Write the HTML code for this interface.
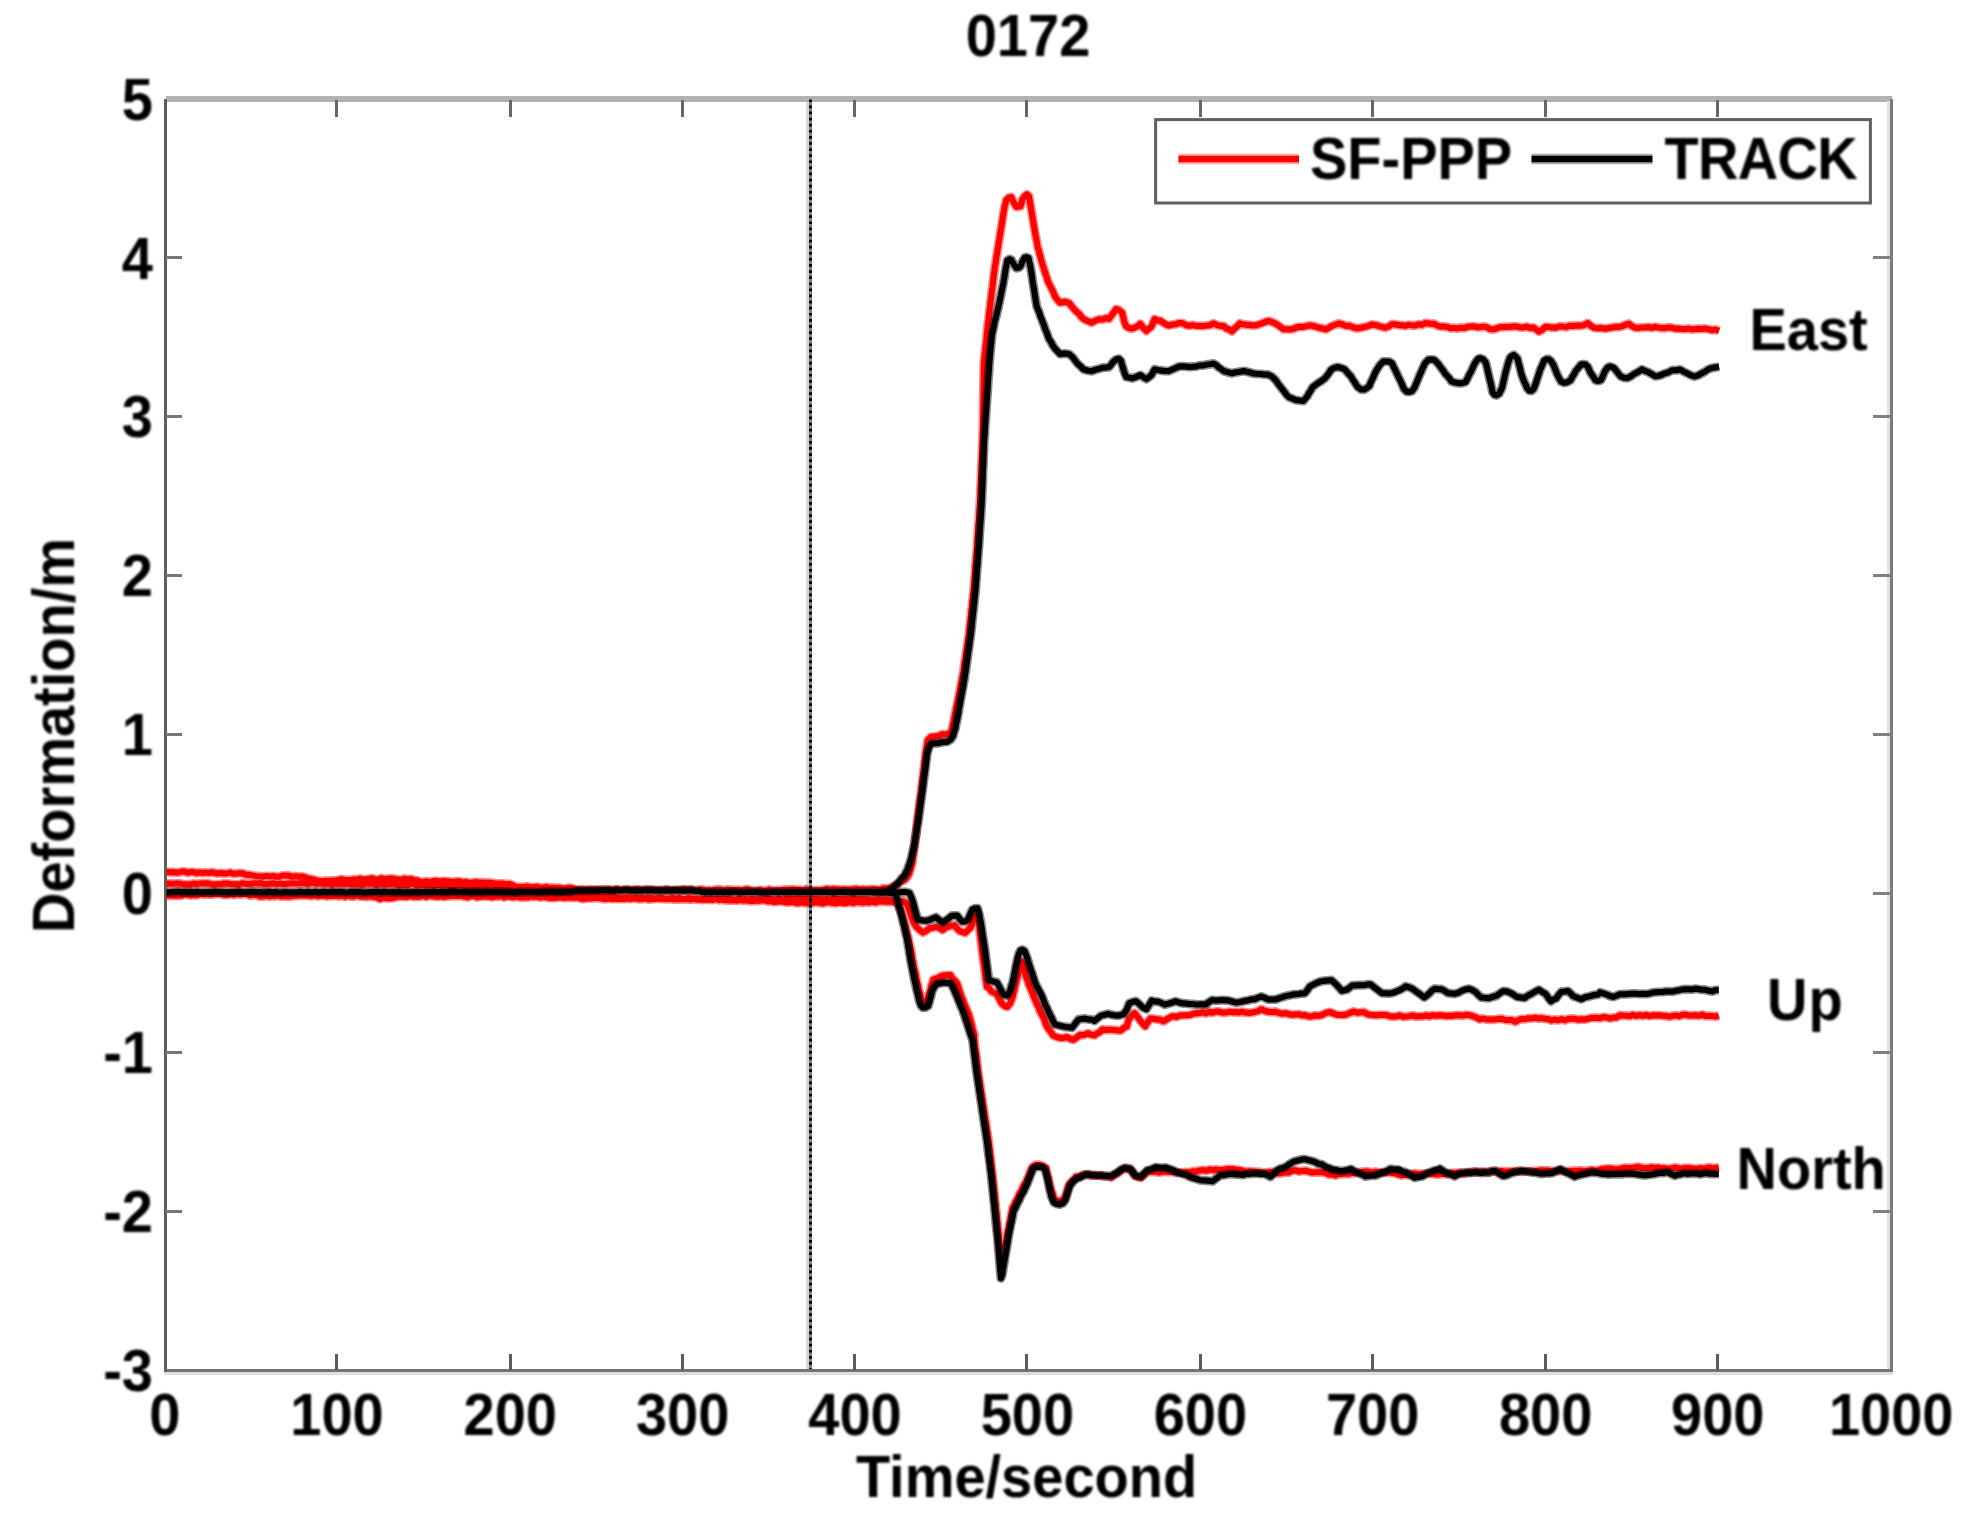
<!DOCTYPE html>
<html><head><meta charset="utf-8"><title>0172</title>
<style>html,body{margin:0;padding:0;background:#fff}.t{font-family:"Liberation Sans",sans-serif;font-weight:bold;font-size:56px;fill:#000}body{width:1969px;height:1519px;overflow:hidden}</style>
</head><body>
<svg width="1969" height="1519" viewBox="0 0 1969 1519" style="display:block">
<rect x="0" y="0" width="1969" height="1519" fill="#ffffff"/>
<g shape-rendering="crispEdges">
<rect x="166" y="96" width="1726" height="6" fill="#b2b2b2"/>
<rect x="1887" y="101" width="3" height="1271" fill="#e2e2e2"/>
<rect x="1890" y="99" width="3" height="1273" fill="#7a7a7a"/>
<rect x="164" y="1372" width="1729" height="3" fill="#dedede"/>
<rect x="164" y="1369" width="1729" height="3" fill="#747474"/>
<rect x="163.5" y="99" width="3.2" height="1273" fill="#5e5e5e"/>
<rect x="334.6" y="1354" width="3" height="16" fill="#5c5c5c"/>
<rect x="334.6" y="100" width="3" height="17" fill="#666666"/>
<rect x="508.7" y="1354" width="3" height="16" fill="#5c5c5c"/>
<rect x="508.7" y="100" width="3" height="17" fill="#666666"/>
<rect x="680.9" y="1354" width="3" height="16" fill="#5c5c5c"/>
<rect x="680.9" y="100" width="3" height="17" fill="#666666"/>
<rect x="853.4" y="1354" width="3" height="16" fill="#5c5c5c"/>
<rect x="853.4" y="100" width="3" height="17" fill="#666666"/>
<rect x="1025.2" y="1354" width="3" height="16" fill="#5c5c5c"/>
<rect x="1025.2" y="100" width="3" height="17" fill="#666666"/>
<rect x="1199.0" y="1354" width="3" height="16" fill="#5c5c5c"/>
<rect x="1199.0" y="100" width="3" height="17" fill="#666666"/>
<rect x="1370.5" y="1354" width="3" height="16" fill="#5c5c5c"/>
<rect x="1370.5" y="100" width="3" height="17" fill="#666666"/>
<rect x="1544.3" y="1354" width="3" height="16" fill="#5c5c5c"/>
<rect x="1544.3" y="100" width="3" height="17" fill="#666666"/>
<rect x="1715.9" y="1354" width="3" height="16" fill="#5c5c5c"/>
<rect x="1715.9" y="100" width="3" height="17" fill="#666666"/>
<rect x="166" y="1210.0" width="16" height="3" fill="#777777"/>
<rect x="1872.5" y="1210.0" width="18" height="3" fill="#808080"/>
<rect x="166" y="1051.0" width="16" height="3" fill="#777777"/>
<rect x="1872.5" y="1051.0" width="18" height="3" fill="#808080"/>
<rect x="166" y="892.1" width="16" height="3" fill="#777777"/>
<rect x="1872.5" y="892.1" width="18" height="3" fill="#808080"/>
<rect x="166" y="733.1" width="16" height="3" fill="#777777"/>
<rect x="1872.5" y="733.1" width="18" height="3" fill="#808080"/>
<rect x="166" y="574.1" width="16" height="3" fill="#777777"/>
<rect x="1872.5" y="574.1" width="18" height="3" fill="#808080"/>
<rect x="166" y="415.1" width="16" height="3" fill="#777777"/>
<rect x="1872.5" y="415.1" width="18" height="3" fill="#808080"/>
<rect x="166" y="256.2" width="16" height="3" fill="#777777"/>
<rect x="1872.5" y="256.2" width="18" height="3" fill="#808080"/>
</g>
<rect x="806.3" y="102" width="2.7" height="1267" fill="#d4d4d4"/>
<g opacity="0.45" fill="none" stroke="#ff0000" stroke-width="9.2" stroke-linejoin="round">
<path d="M166.6,871.8 L169.6,872.3 L172.6,872.0 L175.6,872.4 L178.6,872.5 L181.6,871.6 L184.6,871.6 L187.6,872.8 L190.6,872.0 L193.6,872.0 L196.6,873.1 L199.6,872.4 L202.6,873.0 L205.7,872.5 L208.7,872.9 L211.8,872.2 L214.8,873.0 L217.9,873.5 L220.9,873.0 L224.0,873.4 L227.0,873.4 L230.1,872.6 L233.1,873.7 L236.2,873.6 L239.2,873.2 L242.5,873.2 L245.8,874.8 L249.1,874.7 L252.4,875.4 L256.4,876.2 L260.4,876.4 L263.6,876.7 L266.7,875.9 L269.9,876.6 L273.0,876.0 L276.2,876.8 L279.4,876.7 L282.5,875.5 L285.7,875.6 L288.8,875.7 L292.0,876.8 L295.5,876.2 L299.1,876.8 L302.6,876.5 L305.9,877.8 L309.2,878.6 L312.3,879.2 L315.4,880.2 L318.5,880.8 L321.8,881.2 L325.1,880.7 L328.4,880.9 L331.7,880.6 L335.0,880.7 L338.3,880.0 L341.6,879.1 L344.9,879.9 L347.9,880.1 L351.0,879.9 L354.0,879.4 L357.1,879.5 L360.1,878.7 L363.2,879.6 L366.2,879.2 L369.3,878.7 L372.3,878.3 L375.4,879.5 L378.4,879.6 L381.5,878.2 L384.5,879.3 L387.8,878.8 L391.1,878.5 L394.4,878.8 L397.7,879.6 L401.0,879.9 L404.3,878.7 L407.6,879.7 L410.9,878.9 L413.9,880.4 L417.0,880.3 L420.0,881.7 L423.3,881.9 L426.7,881.3 L430.0,882.1 L433.3,881.1 L436.7,880.9 L440.0,881.7 L443.3,881.0 L446.6,881.3 L449.9,881.6 L453.1,882.0 L456.4,881.4 L459.7,881.3 L463.0,882.6 L466.0,881.8 L469.0,882.8 L472.0,882.8 L475.0,882.1 L478.0,882.3 L481.0,882.4 L484.0,882.7 L487.0,882.7 L490.0,882.7 L493.2,883.1 L496.3,883.8 L499.5,883.5 L502.7,883.6 L505.8,884.3 L509.0,883.9 L513.0,885.3 L517.0,887.5 L520.3,886.9 L523.6,887.1 L526.9,886.4 L530.1,887.1 L533.4,887.4 L536.7,886.7 L540.0,887.7 L543.1,887.8 L546.3,887.0 L549.4,887.9 L552.6,887.7 L555.7,888.1 L558.9,887.7 L562.0,888.3 L565.3,888.6 L568.6,887.8 L571.9,888.1 L575.1,889.3 L578.4,890.0 L581.7,889.2 L585.0,889.7 L588.1,889.9 L591.2,889.5 L594.3,889.6 L597.4,889.6 L600.5,889.7 L603.6,890.0 L606.7,889.6 L609.8,889.7 L612.9,890.3 L616.0,889.2 L619.0,890.0 L622.1,890.3 L625.2,889.6 L628.3,889.5 L631.4,890.4 L634.5,889.6 L637.6,889.5 L640.7,889.9 L643.8,890.3 L646.9,889.4 L650.0,889.7 L653.1,889.8 L656.2,890.5 L659.4,889.9 L662.5,890.5 L665.6,889.5 L668.8,889.8 L671.9,890.2 L675.0,890.6 L678.1,889.9 L681.2,889.6 L684.4,889.4 L687.5,890.0 L690.6,889.5 L693.8,890.5 L696.9,890.5 L700.0,889.5 L703.0,889.7 L706.0,890.5 L709.0,890.2 L712.0,890.5 L715.0,889.8 L718.0,889.4 L721.0,889.7 L724.0,890.4 L727.0,889.7 L730.0,889.8 L733.0,889.9 L736.0,889.9 L739.0,889.9 L742.0,890.6 L745.0,889.5 L748.0,889.3 L751.0,890.7 L754.0,890.6 L757.0,890.7 L760.0,889.9 L763.1,890.7 L766.2,890.6 L769.2,889.6 L772.3,890.4 L775.4,890.5 L778.5,890.2 L781.5,890.0 L784.6,889.7 L787.7,889.8 L790.8,889.6 L793.8,889.4 L796.9,890.1 L800.0,889.7 L803.0,890.4 L806.0,889.2 L809.0,890.5 L812.0,890.1 L815.0,890.4 L818.0,890.3 L821.0,890.2 L824.0,889.7 L827.0,888.8 L830.0,889.9 L833.0,889.0 L836.0,889.2 L839.0,889.7 L842.0,889.5 L845.0,889.3 L848.0,890.0 L851.0,889.5 L854.0,889.1 L857.0,888.9 L860.0,889.8 L863.3,889.3 L866.7,889.8 L870.0,889.2 L873.3,889.0 L876.7,889.5 L880.0,890.0 L883.3,888.3 L886.7,888.5 L890.0,887.9 L893.7,886.2 L897.3,884.6 L900.8,881.4 L904.3,880.2 L906.6,877.9 L909.0,874.0 L910.1,870.6 L911.1,866.9 L912.2,863.6 L912.6,860.3 L913.0,857.2 L913.5,854.5 L913.9,850.2 L914.4,847.1 L914.7,844.1 L915.1,840.9 L915.4,837.7 L915.8,835.9 L916.1,832.5 L916.5,828.2 L916.8,825.7 L917.2,822.2 L917.5,819.1 L917.9,816.0 L918.3,813.2 L918.7,810.0 L919.1,806.5 L919.5,803.1 L919.9,800.1 L920.4,796.7 L920.8,794.1 L921.2,791.2 L921.6,787.6 L922.0,783.9 L922.3,780.9 L922.7,778.1 L923.1,775.2 L923.5,772.4 L923.9,768.6 L924.2,766.1 L924.6,762.6 L925.0,759.2 L925.4,755.9 L925.8,753.0 L926.2,750.1 L926.7,746.5 L927.2,743.8 L927.7,740.3 L931.1,736.8 L934.8,736.5 L938.5,736.0 L942.2,734.3 L945.4,734.4 L948.5,733.9 L951.7,730.8 L952.3,727.9 L952.9,724.0 L953.6,721.8 L954.2,718.6 L954.8,714.7 L955.5,711.8 L956.1,708.1 L956.7,706.0 L957.4,702.6 L958.0,699.8 L958.6,696.5 L959.3,693.1 L959.9,690.1 L960.5,686.7 L961.2,682.8 L961.8,680.4 L962.4,676.3 L963.1,673.4 L963.5,671.2 L964.0,666.9 L964.4,663.8 L964.9,660.7 L965.4,658.7 L965.8,654.5 L966.3,651.1 L966.8,649.2 L967.2,644.9 L967.7,642.8 L968.1,639.4 L968.6,636.5 L969.1,633.5 L969.4,629.8 L969.7,627.0 L970.1,622.7 L970.4,620.6 L970.8,617.0 L971.1,614.2 L971.4,610.1 L971.8,607.9 L972.1,605.0 L972.4,600.6 L972.8,597.8 L973.1,595.0 L973.5,592.2 L973.8,588.2 L974.0,584.9 L974.3,581.9 L974.5,579.3 L974.8,576.3 L975.0,572.6 L975.3,569.4 L975.5,566.3 L975.7,563.1 L976.0,560.0 L976.2,556.3 L976.5,553.8 L976.7,551.4 L977.0,547.4 L977.2,544.7 L977.4,540.7 L977.6,538.3 L977.8,535.2 L978.0,531.9 L978.2,528.5 L978.4,525.3 L978.7,522.4 L978.9,519.6 L979.1,515.3 L979.3,512.1 L979.5,509.9 L979.7,507.0 L979.9,503.3 L980.1,500.0 L980.3,497.4 L980.4,493.6 L980.5,490.7 L980.6,487.6 L980.8,485.2 L980.9,481.8 L981.0,478.6 L981.1,476.3 L981.3,473.7 L981.4,469.7 L981.5,467.3 L981.6,463.9 L981.8,461.6 L981.9,458.1 L982.0,454.7 L982.1,451.6 L982.3,448.3 L982.4,446.0 L982.5,442.8 L982.7,439.5 L982.7,436.7 L982.8,433.6 L982.8,431.2 L982.9,427.2 L982.9,425.4 L983.0,421.5 L983.0,418.6 L983.1,415.4 L983.1,412.8 L983.2,409.7 L983.2,406.3 L983.3,403.1 L983.3,400.4 L983.4,397.5 L983.4,393.7 L983.5,391.2 L983.5,388.4 L983.6,384.6 L983.6,381.2 L983.7,378.1 L983.7,375.8 L983.8,372.6 L983.8,370.0 L983.9,366.8 L983.9,362.8 L984.2,359.6 L984.5,356.7 L984.8,353.5 L985.1,351.3 L985.4,348.5 L985.7,345.5 L986.1,341.5 L986.4,339.3 L986.7,335.4 L987.0,332.6 L987.3,329.7 L987.7,325.5 L988.1,322.2 L988.5,320.0 L988.9,315.9 L989.3,312.7 L989.6,309.7 L990.0,306.5 L990.4,302.4 L990.8,299.8 L991.2,296.8 L991.6,293.7 L992.0,290.2 L992.4,287.6 L992.7,285.1 L993.1,281.1 L993.5,278.2 L993.9,274.4 L994.3,271.6 L994.7,269.0 L995.1,265.1 L995.6,263.2 L996.0,260.3 L996.5,256.1 L997.0,254.4 L997.5,250.6 L997.9,248.2 L998.4,245.2 L998.9,241.5 L999.4,239.1 L999.8,236.1 L1000.3,233.3 L1000.8,229.5 L1001.3,227.3 L1001.7,224.6 L1002.2,221.2 L1002.8,217.4 L1003.4,213.3 L1004.0,210.3 L1004.6,206.5 L1005.5,203.5 L1006.3,199.9 L1008.7,197.7 L1011.3,197.1 L1014.0,202.9 L1016.4,206.9 L1018.5,206.6 L1020.5,206.3 L1021.5,202.9 L1022.5,199.0 L1024.6,196.2 L1027.0,194.4 L1029.0,196.3 L1029.6,199.9 L1030.1,202.8 L1030.6,205.8 L1031.2,209.2 L1031.7,212.2 L1032.2,215.3 L1032.7,218.4 L1033.2,221.4 L1033.8,225.6 L1034.4,228.8 L1034.9,231.6 L1035.5,235.1 L1036.1,237.7 L1036.6,240.7 L1037.2,244.0 L1037.8,247.9 L1038.6,249.7 L1039.4,253.5 L1040.3,256.1 L1041.1,259.9 L1042.0,262.4 L1042.8,265.4 L1043.8,268.5 L1044.9,271.8 L1045.9,275.2 L1046.9,277.6 L1047.9,281.4 L1048.9,283.3 L1050.5,286.6 L1052.0,289.4 L1053.5,292.5 L1055.0,296.5 L1057.6,300.0 L1060.1,302.7 L1064.8,301.7 L1069.2,303.1 L1071.3,305.9 L1073.3,308.4 L1075.3,310.5 L1077.4,312.5 L1079.4,314.2 L1081.4,316.9 L1083.5,319.0 L1087.5,321.0 L1091.6,322.6 L1095.7,320.5 L1099.7,319.1 L1102.8,319.6 L1105.8,318.1 L1108.9,318.9 L1110.9,316.2 L1112.9,313.4 L1116.0,309.1 L1119.0,310.0 L1122.1,312.5 L1123.1,316.6 L1124.1,321.2 L1125.1,323.8 L1126.1,326.3 L1129.2,328.1 L1132.2,328.6 L1134.9,327.4 L1137.6,326.2 L1140.3,323.8 L1143.4,328.0 L1146.4,330.9 L1149.0,328.6 L1151.5,326.6 L1153.0,323.0 L1154.6,319.0 L1157.6,320.5 L1160.7,320.8 L1163.4,322.9 L1166.1,324.4 L1168.8,325.5 L1172.2,324.6 L1175.6,324.2 L1178.9,323.1 L1182.3,323.0 L1185.7,325.0 L1189.1,325.8 L1192.7,325.1 L1196.2,325.9 L1199.8,325.9 L1203.3,325.9 L1206.7,325.6 L1210.1,325.2 L1213.5,323.3 L1216.9,325.1 L1220.3,325.9 L1223.6,326.0 L1226.3,328.5 L1229.1,329.4 L1231.8,331.3 L1234.5,328.6 L1237.2,326.3 L1239.9,323.3 L1243.3,324.3 L1246.7,324.9 L1250.0,325.1 L1253.2,325.5 L1257.2,325.0 L1261.1,323.6 L1265.1,322.0 L1269.1,320.9 L1272.4,322.3 L1275.7,323.8 L1278.3,325.3 L1280.9,327.3 L1283.6,329.2 L1286.9,329.2 L1290.2,329.4 L1293.3,328.9 L1296.3,327.5 L1299.4,326.8 L1303.1,326.9 L1306.7,326.1 L1310.3,325.4 L1313.9,326.2 L1317.2,327.2 L1320.5,328.0 L1325.8,329.3 L1329.1,327.6 L1332.4,325.7 L1335.7,324.5 L1339.0,323.5 L1342.6,324.5 L1346.1,326.0 L1349.6,325.7 L1353.6,327.5 L1357.5,328.4 L1360.8,327.8 L1364.1,327.0 L1368.1,326.1 L1372.0,324.4 L1376.0,325.2 L1380.0,326.3 L1385.3,327.7 L1388.6,326.5 L1391.9,324.2 L1395.2,324.3 L1398.5,325.1 L1401.8,325.3 L1405.1,325.9 L1408.6,324.9 L1412.1,325.4 L1415.6,325.4 L1418.7,324.2 L1421.8,324.9 L1424.9,323.2 L1427.9,323.2 L1431.0,324.0 L1434.1,323.7 L1437.4,325.7 L1440.7,326.6 L1444.0,326.6 L1447.3,326.9 L1450.6,328.2 L1453.9,327.9 L1457.3,328.4 L1460.8,327.6 L1464.2,328.1 L1467.6,326.8 L1471.1,326.5 L1474.4,326.5 L1477.7,327.3 L1481.0,327.1 L1484.3,326.6 L1487.1,327.3 L1490.0,329.1 L1493.2,329.3 L1496.3,328.5 L1499.5,327.3 L1502.7,327.1 L1505.8,326.9 L1509.3,326.9 L1512.7,326.6 L1516.1,326.5 L1519.6,327.2 L1523.0,327.5 L1526.5,326.6 L1530.1,328.0 L1533.6,327.5 L1536.2,329.6 L1538.9,331.5 L1542.2,329.8 L1545.5,326.8 L1548.9,327.1 L1552.3,327.4 L1555.8,327.8 L1559.2,326.4 L1562.6,326.6 L1566.1,327.1 L1569.5,325.8 L1572.9,325.9 L1576.4,325.6 L1579.8,325.8 L1583.8,325.2 L1587.7,323.1 L1591.0,325.9 L1594.3,327.9 L1597.9,328.2 L1601.6,327.9 L1605.2,328.7 L1608.8,328.0 L1612.1,327.6 L1615.4,326.8 L1618.7,327.1 L1622.0,326.2 L1625.3,324.9 L1628.6,323.7 L1632.0,326.2 L1635.3,327.7 L1638.6,327.9 L1641.9,327.4 L1645.2,327.5 L1648.5,327.0 L1651.8,327.9 L1655.1,326.8 L1658.4,327.6 L1661.7,328.1 L1665.0,328.1 L1668.3,327.4 L1671.6,327.7 L1674.9,328.7 L1678.2,328.5 L1681.5,329.0 L1684.8,329.1 L1688.1,328.6 L1691.4,329.3 L1694.7,329.2 L1698.1,328.7 L1701.5,328.9 L1705.0,328.6 L1708.4,329.2 L1711.8,330.2 L1715.5,329.6 L1719.1,330.9"/>
<path d="M166.6,883.7 L169.6,883.5 L172.6,883.9 L175.6,883.5 L178.6,883.4 L181.6,883.9 L184.6,884.6 L187.6,884.4 L190.6,884.4 L193.6,883.5 L196.6,884.0 L199.6,883.6 L202.6,883.4 L205.7,883.3 L208.7,883.4 L211.8,884.5 L214.8,884.4 L217.9,884.3 L220.9,884.3 L224.0,883.4 L227.0,883.5 L230.1,884.0 L233.1,884.2 L236.2,884.3 L239.2,884.4 L242.3,883.2 L245.4,883.9 L248.5,884.0 L251.6,883.7 L254.7,883.2 L257.8,883.6 L260.9,883.0 L264.0,884.3 L267.2,884.1 L270.3,883.6 L273.4,883.2 L276.5,884.1 L279.6,883.6 L282.7,884.0 L285.8,884.0 L288.9,883.4 L292.0,883.3 L295.1,883.6 L298.2,883.4 L301.3,883.0 L304.4,883.3 L307.6,884.1 L310.7,883.0 L313.8,883.0 L316.9,883.9 L320.0,883.4 L323.1,883.9 L326.2,883.8 L329.3,883.7 L332.5,884.7 L335.6,883.5 L338.7,883.9 L341.8,883.6 L344.9,884.3 L347.9,883.8 L350.9,883.9 L353.9,884.5 L356.9,883.9 L359.9,884.3 L362.9,884.9 L365.9,883.7 L368.9,883.6 L371.9,883.9 L374.9,884.7 L377.9,884.5 L380.9,884.0 L384.0,884.2 L387.0,884.0 L390.0,884.4 L393.0,883.8 L396.0,884.8 L399.0,885.1 L402.0,885.2 L405.0,884.9 L408.0,885.3 L411.0,883.9 L414.0,884.3 L417.0,885.4 L420.0,885.1 L423.3,884.7 L426.7,885.6 L430.0,885.3 L433.3,885.7 L436.7,885.1 L440.0,885.0 L443.1,885.5 L446.2,885.2 L449.2,885.7 L452.3,886.7 L455.4,885.8 L458.5,885.5 L461.5,885.6 L464.6,885.9 L467.7,887.0 L470.8,886.4 L473.8,886.5 L476.9,886.3 L480.0,887.7 L483.0,887.0 L486.0,886.9 L489.0,886.8 L492.0,886.9 L495.0,887.3 L498.0,888.2 L501.0,887.5 L504.0,887.5 L507.0,888.3 L510.0,888.1 L513.0,889.4 L516.0,888.2 L519.0,889.0 L522.0,889.5 L525.0,889.1 L528.0,890.1 L531.0,889.5 L534.0,889.3 L537.0,889.7 L540.0,889.3 L543.1,890.2 L546.2,890.2 L549.2,891.5 L552.3,891.7 L555.4,891.5 L558.5,891.1 L561.5,891.8 L564.6,892.1 L567.7,892.3 L570.8,892.7 L573.8,893.9 L576.9,893.2 L580.0,893.3 L583.1,894.9 L586.2,894.6 L589.2,895.5 L592.3,894.9 L595.4,895.9 L598.5,895.8 L601.5,896.2 L604.6,896.4 L607.7,896.3 L610.8,895.9 L613.8,896.4 L616.9,897.6 L620.0,897.9 L623.1,898.0 L626.2,897.2 L629.4,897.7 L632.5,898.0 L635.6,897.8 L638.8,898.1 L641.9,897.7 L645.0,898.0 L648.1,898.1 L651.2,897.5 L654.4,898.6 L657.5,898.7 L660.6,897.4 L663.8,898.8 L666.9,898.8 L670.0,898.5 L673.0,897.6 L676.0,899.0 L679.0,897.9 L682.0,899.2 L685.0,898.9 L688.0,898.0 L691.0,898.3 L694.0,899.0 L697.0,899.0 L700.0,899.4 L703.1,899.7 L706.2,898.8 L709.3,898.5 L712.4,900.0 L715.5,898.7 L718.6,900.1 L721.7,899.1 L724.8,900.2 L727.9,900.3 L731.0,900.5 L734.0,900.1 L737.1,900.7 L740.2,899.8 L743.3,900.6 L746.4,900.2 L749.5,901.1 L752.6,901.0 L755.7,900.7 L758.8,900.8 L761.9,900.2 L765.0,900.3 L768.1,901.3 L771.2,901.3 L774.2,902.0 L777.3,901.8 L780.4,901.2 L783.5,901.7 L786.5,902.5 L789.6,902.3 L792.7,901.7 L795.8,903.0 L798.8,903.2 L801.9,902.2 L805.0,903.1 L808.0,902.8 L811.0,903.4 L814.0,902.6 L817.0,902.5 L820.0,902.8 L823.0,903.5 L826.0,902.2 L829.0,902.2 L832.0,902.9 L835.0,903.3 L838.0,902.7 L841.0,902.6 L844.0,903.2 L847.0,903.0 L850.0,902.0 L853.2,903.1 L856.4,902.0 L859.5,902.1 L862.7,902.8 L865.9,902.1 L869.1,902.6 L872.3,901.6 L875.5,902.6 L878.6,901.5 L881.8,901.3 L885.0,901.8 L888.8,901.6 L892.6,902.0 L896.4,902.6 L899.7,902.3 L903.0,901.2 L906.3,903.4 L908.3,907.0 L909.3,910.1 L910.4,913.6 L911.5,916.5 L912.5,919.0 L913.6,922.4 L916.2,926.6 L918.9,929.2 L922.8,932.5 L926.1,930.8 L929.4,928.3 L932.7,927.7 L936.0,926.9 L939.3,927.8 L942.6,930.0 L945.9,927.4 L949.2,926.1 L954.5,925.2 L957.2,928.7 L959.8,931.2 L965.1,932.9 L967.7,930.3 L970.4,927.6 L971.7,925.4 L973.0,921.7 L974.3,919.1 L976.3,915.0 L977.6,912.9 L978.1,916.1 L978.5,920.2 L978.9,922.3 L979.3,926.7 L979.6,929.2 L979.9,932.8 L980.3,935.8 L980.7,939.5 L981.1,942.0 L981.5,945.8 L981.9,949.9 L982.3,952.0 L982.7,956.1 L983.1,958.9 L983.6,962.1 L984.0,965.1 L984.5,968.5 L985.0,973.3 L985.4,976.5 L985.9,979.9 L986.4,983.3 L986.9,986.9 L989.2,988.3 L991.5,991.6 L996.8,994.1 L998.5,997.3 L1000.3,1000.9 L1002.0,1003.8 L1004.7,1006.1 L1007.3,1006.8 L1010.0,1003.6 L1011.3,1000.3 L1012.6,997.1 L1013.4,993.5 L1014.2,990.4 L1015.0,986.2 L1015.8,983.7 L1016.6,979.5 L1017.4,976.8 L1018.2,974.3 L1019.0,971.0 L1019.9,967.4 L1021.9,962.0 L1023.8,967.5 L1024.7,970.9 L1025.5,974.4 L1026.3,977.2 L1027.1,979.4 L1028.2,982.3 L1029.3,985.8 L1030.4,987.9 L1031.5,990.9 L1032.6,993.2 L1033.7,996.3 L1035.1,999.7 L1036.4,1002.9 L1037.7,1005.7 L1039.0,1008.2 L1040.3,1012.0 L1041.7,1014.4 L1043.0,1016.6 L1044.3,1019.4 L1045.6,1023.6 L1046.9,1026.5 L1048.6,1029.1 L1050.2,1031.3 L1051.9,1033.5 L1053.5,1035.8 L1056.8,1037.0 L1060.1,1037.9 L1063.4,1038.0 L1066.7,1037.0 L1070.1,1038.8 L1073.4,1039.8 L1076.7,1037.3 L1080.0,1034.8 L1083.9,1035.1 L1087.9,1033.2 L1091.2,1034.8 L1094.5,1035.3 L1097.1,1033.4 L1099.8,1032.2 L1102.4,1029.4 L1105.5,1030.0 L1108.6,1029.7 L1111.6,1029.8 L1114.7,1030.0 L1117.8,1030.6 L1120.9,1030.5 L1123.9,1027.8 L1126.8,1026.6 L1128.0,1021.6 L1129.2,1018.7 L1131.9,1015.8 L1134.5,1013.2 L1137.2,1016.4 L1139.8,1020.1 L1142.4,1023.3 L1145.1,1026.4 L1146.8,1023.5 L1148.6,1021.0 L1150.4,1018.4 L1153.7,1018.8 L1157.0,1019.4 L1160.3,1019.6 L1163.6,1021.3 L1166.7,1019.4 L1169.7,1017.5 L1172.8,1016.3 L1176.3,1016.9 L1179.9,1015.5 L1183.4,1015.3 L1186.7,1015.2 L1190.0,1015.0 L1193.3,1013.7 L1196.6,1013.3 L1199.8,1013.1 L1202.9,1012.2 L1206.1,1013.3 L1209.3,1011.7 L1212.4,1012.8 L1215.7,1011.6 L1219.0,1011.6 L1222.3,1012.7 L1225.6,1012.6 L1228.9,1011.8 L1232.2,1012.2 L1235.5,1012.1 L1238.8,1012.5 L1242.1,1011.7 L1245.4,1012.6 L1248.7,1012.9 L1252.0,1012.5 L1255.1,1011.9 L1258.2,1011.1 L1261.3,1009.3 L1265.3,1011.0 L1269.2,1012.0 L1272.4,1012.0 L1275.6,1011.7 L1278.7,1012.9 L1281.9,1013.7 L1285.1,1013.2 L1288.4,1014.0 L1291.7,1014.7 L1295.0,1014.6 L1298.3,1014.1 L1301.6,1015.3 L1304.9,1015.1 L1308.2,1016.3 L1311.5,1016.4 L1315.0,1015.4 L1318.5,1015.8 L1322.0,1015.0 L1326.0,1012.9 L1330.0,1012.0 L1333.3,1013.4 L1336.6,1014.7 L1340.5,1015.0 L1344.5,1015.0 L1347.6,1014.0 L1350.6,1012.8 L1353.7,1011.5 L1357.2,1012.7 L1360.8,1012.2 L1364.3,1012.2 L1367.1,1014.1 L1370.0,1014.8 L1373.3,1015.0 L1376.6,1015.3 L1379.9,1014.9 L1383.2,1015.0 L1386.5,1015.0 L1389.8,1016.2 L1393.1,1016.6 L1396.4,1016.4 L1399.7,1015.5 L1403.0,1016.8 L1406.3,1016.6 L1409.6,1016.1 L1412.9,1015.4 L1416.2,1016.6 L1419.5,1016.3 L1422.8,1016.3 L1426.1,1015.3 L1429.4,1016.3 L1432.7,1015.2 L1436.0,1015.8 L1439.3,1015.2 L1442.6,1015.4 L1445.9,1016.1 L1449.2,1015.8 L1452.6,1015.9 L1456.0,1015.2 L1459.4,1015.3 L1462.8,1015.6 L1466.2,1014.8 L1469.6,1015.3 L1473.0,1016.2 L1476.3,1017.5 L1479.6,1019.3 L1482.8,1018.6 L1485.9,1019.3 L1489.1,1019.6 L1492.3,1019.6 L1495.4,1019.3 L1498.7,1018.9 L1502.0,1018.7 L1505.3,1020.0 L1508.6,1020.1 L1512.0,1020.1 L1515.3,1021.8 L1518.6,1019.9 L1521.9,1019.0 L1525.2,1019.1 L1528.5,1018.2 L1531.8,1018.4 L1535.1,1017.7 L1538.4,1018.4 L1541.7,1018.1 L1545.0,1018.7 L1548.3,1019.1 L1551.6,1020.4 L1554.9,1019.5 L1558.2,1020.3 L1561.5,1019.1 L1564.8,1020.3 L1568.1,1018.9 L1571.4,1018.7 L1574.7,1018.8 L1578.0,1019.7 L1581.3,1019.2 L1584.6,1019.5 L1587.9,1018.8 L1590.9,1017.9 L1593.9,1017.9 L1597.0,1017.7 L1600.0,1018.2 L1603.3,1017.1 L1606.6,1017.4 L1609.9,1018.5 L1613.2,1017.5 L1616.5,1017.5 L1619.8,1015.2 L1623.1,1015.6 L1626.4,1015.7 L1629.7,1016.1 L1633.0,1014.8 L1636.3,1016.0 L1639.6,1015.0 L1642.9,1015.9 L1646.2,1014.9 L1649.5,1016.1 L1652.8,1015.3 L1656.1,1015.4 L1659.4,1015.3 L1662.7,1015.8 L1666.0,1015.9 L1669.3,1016.7 L1672.6,1015.9 L1675.9,1015.4 L1679.2,1016.2 L1682.5,1014.8 L1685.8,1014.7 L1689.1,1015.6 L1692.4,1015.5 L1695.7,1015.2 L1699.0,1015.8 L1702.3,1014.6 L1705.6,1016.1 L1708.9,1015.9 L1712.2,1016.0 L1715.5,1016.5 L1718.8,1015.5"/>
<path d="M166.6,895.5 L169.6,895.6 L172.7,895.6 L175.7,895.7 L178.7,895.4 L181.8,895.6 L184.8,894.2 L187.9,894.7 L190.9,895.4 L193.9,894.9 L197.0,895.2 L200.0,893.9 L203.1,894.4 L206.2,894.1 L209.2,894.5 L212.3,894.5 L215.4,893.7 L218.5,894.0 L221.5,894.1 L224.6,895.0 L227.7,894.8 L230.8,893.8 L233.8,894.8 L236.9,893.8 L240.0,894.5 L243.3,894.0 L246.7,894.1 L250.0,895.6 L253.3,894.9 L256.7,895.1 L260.0,896.5 L263.0,896.4 L266.1,895.5 L269.1,896.5 L272.1,895.9 L275.2,896.1 L278.2,895.4 L281.2,896.5 L284.2,896.1 L287.3,896.6 L290.3,896.5 L293.3,895.6 L296.4,895.7 L299.4,895.4 L302.4,895.4 L305.5,895.2 L308.5,895.6 L311.5,896.1 L314.5,895.2 L317.6,896.2 L320.6,895.7 L323.6,895.6 L326.7,896.4 L329.7,895.9 L332.7,895.7 L335.8,895.9 L338.8,896.3 L341.8,895.3 L344.8,896.7 L347.9,895.3 L350.9,896.4 L353.9,896.5 L357.0,895.3 L360.0,896.4 L363.3,896.2 L366.7,896.9 L370.0,896.4 L373.3,896.9 L376.7,897.4 L380.0,899.0 L383.3,897.6 L386.7,898.2 L390.0,898.2 L393.3,898.0 L396.7,896.8 L400.0,896.6 L403.3,896.7 L406.7,897.0 L410.0,895.9 L413.3,896.8 L416.7,896.7 L420.0,896.7 L423.0,895.5 L426.0,896.9 L429.0,895.6 L432.0,896.0 L435.0,896.5 L438.0,896.9 L441.0,896.1 L444.0,897.0 L447.0,896.4 L450.0,896.1 L453.0,896.1 L456.0,896.0 L459.0,895.8 L462.0,896.0 L465.0,896.8 L468.0,897.3 L471.0,896.0 L474.0,895.9 L477.0,897.3 L480.0,896.7 L483.0,896.5 L486.0,896.2 L489.0,896.8 L492.0,897.2 L495.0,896.6 L498.0,896.6 L501.0,896.1 L504.0,897.4 L507.0,896.1 L510.0,896.8 L513.0,897.3 L516.0,896.3 L519.0,897.2 L522.0,897.6 L525.0,897.1 L528.0,897.4 L531.0,896.3 L534.0,896.9 L537.0,896.5 L540.0,897.5 L543.0,896.8 L546.0,897.1 L549.0,898.0 L552.0,897.8 L555.0,898.1 L558.0,897.4 L561.0,897.5 L564.0,897.9 L567.0,897.6 L570.0,897.4 L573.0,897.7 L576.0,897.4 L579.0,897.8 L582.0,898.8 L585.0,898.8 L588.0,898.4 L591.0,898.3 L594.0,898.1 L597.0,897.8 L600.0,898.2 L603.0,898.9 L606.1,899.1 L609.1,898.3 L612.1,899.0 L615.2,899.0 L618.2,898.9 L621.2,898.9 L624.2,899.0 L627.3,898.4 L630.3,899.0 L633.3,898.3 L636.4,898.7 L639.4,899.1 L642.4,899.0 L645.5,898.4 L648.5,899.4 L651.5,899.0 L654.5,898.9 L657.6,898.1 L660.6,898.9 L663.6,898.4 L666.7,899.1 L669.7,898.8 L672.7,899.3 L675.8,899.1 L678.8,899.3 L681.8,898.7 L684.8,899.1 L687.9,899.3 L690.9,899.4 L693.9,898.7 L697.0,899.5 L700.0,899.6 L703.0,899.3 L706.1,899.7 L709.1,899.7 L712.1,899.1 L715.2,899.1 L718.2,898.6 L721.2,899.6 L724.2,899.7 L727.3,899.0 L730.3,899.4 L733.3,899.4 L736.4,899.5 L739.4,898.6 L742.4,899.5 L745.5,899.3 L748.5,899.4 L751.5,899.0 L754.5,899.3 L757.6,899.6 L760.6,899.4 L763.6,899.5 L766.7,898.5 L769.7,898.7 L772.7,899.1 L775.8,899.5 L778.8,898.8 L781.8,899.5 L784.8,899.5 L787.9,898.6 L790.9,899.2 L793.9,898.9 L797.0,898.6 L800.0,898.8 L803.0,899.0 L806.1,898.8 L809.1,898.9 L812.1,898.6 L815.2,899.3 L818.2,899.2 L821.2,899.5 L824.3,899.5 L827.3,899.0 L830.4,900.0 L833.4,898.6 L836.4,899.2 L839.5,899.1 L842.5,899.3 L845.5,898.8 L848.6,899.9 L851.6,899.2 L854.6,898.7 L857.7,899.6 L860.7,898.8 L863.8,899.5 L866.8,899.2 L869.8,899.6 L872.9,900.2 L875.9,900.0 L878.9,899.4 L882.0,900.0 L885.0,899.7 L888.8,900.3 L892.6,900.9 L896.4,902.5 L898.7,906.1 L901.0,910.3 L901.9,913.6 L902.7,916.4 L903.5,919.3 L904.3,923.4 L905.1,925.1 L905.8,928.3 L906.6,932.0 L907.4,935.1 L908.1,937.4 L908.9,941.1 L909.6,944.5 L910.2,946.8 L910.7,949.9 L911.3,952.6 L911.9,955.7 L912.4,959.7 L913.0,961.9 L913.6,965.8 L914.2,968.8 L914.9,971.4 L915.6,974.0 L916.2,978.1 L916.9,980.5 L917.5,983.4 L918.3,986.7 L919.1,991.2 L919.9,993.8 L920.7,997.0 L921.5,1000.7 L923.5,1004.1 L926.1,1003.5 L927.2,999.8 L928.3,996.0 L929.4,993.2 L930.4,990.0 L931.4,985.5 L932.4,982.9 L933.4,979.3 L937.3,978.3 L941.3,976.1 L944.4,975.3 L947.5,975.3 L950.5,975.1 L952.7,979.0 L955.0,980.6 L957.2,983.7 L958.2,986.7 L959.3,990.1 L960.3,993.2 L961.4,996.6 L962.4,998.8 L963.8,1003.0 L965.1,1005.4 L966.4,1009.0 L967.7,1011.8 L969.0,1014.9 L969.9,1018.6 L970.8,1021.8 L971.7,1024.9 L972.6,1028.8 L973.4,1031.9 L974.3,1034.4 L974.2,1039.6 L974.6,1043.0 L975.0,1046.8 L975.4,1049.9 L975.8,1052.5 L976.2,1054.8 L976.6,1059.1 L977.0,1061.7 L977.3,1065.0 L977.7,1068.3 L978.1,1071.3 L978.5,1074.2 L979.0,1078.0 L979.4,1080.3 L979.9,1083.4 L980.4,1087.2 L980.8,1089.3 L981.3,1092.6 L981.8,1096.5 L982.2,1098.5 L982.7,1102.7 L983.2,1105.6 L983.6,1108.4 L984.1,1111.3 L984.6,1115.1 L985.0,1118.4 L985.5,1120.4 L986.0,1124.0 L986.4,1127.2 L986.9,1130.2 L987.4,1133.1 L987.8,1136.0 L988.3,1139.7 L988.8,1143.2 L989.1,1145.2 L989.5,1148.5 L989.9,1152.5 L990.2,1155.6 L990.6,1158.5 L990.9,1160.7 L991.3,1164.8 L991.6,1168.3 L992.0,1171.5 L992.4,1174.1 L992.7,1176.3 L993.0,1180.6 L993.3,1182.7 L993.7,1186.5 L994.0,1190.1 L994.3,1192.8 L994.6,1195.1 L994.9,1198.4 L995.2,1202.5 L995.5,1204.4 L995.8,1208.2 L996.1,1211.0 L996.4,1213.8 L996.7,1217.6 L997.0,1219.8 L997.3,1223.0 L997.5,1226.5 L997.8,1229.2 L998.1,1232.3 L998.4,1236.2 L998.7,1239.5 L998.9,1242.9 L999.2,1244.8 L999.7,1248.4 L1000.2,1251.3 L1000.7,1254.8 L1001.1,1257.7 L1001.6,1261.5 L1003.7,1257.2 L1004.2,1253.7 L1004.7,1251.7 L1005.1,1247.9 L1005.6,1245.6 L1006.1,1242.4 L1006.6,1240.0 L1007.1,1236.5 L1007.6,1233.6 L1008.3,1229.9 L1008.9,1227.1 L1009.5,1223.4 L1010.2,1221.0 L1010.8,1217.4 L1011.5,1213.6 L1012.1,1210.6 L1012.7,1207.5 L1014.1,1205.4 L1015.5,1201.8 L1016.9,1199.8 L1018.2,1197.0 L1019.6,1193.4 L1021.3,1191.1 L1023.0,1187.0 L1024.7,1183.9 L1026.4,1181.4 L1027.6,1177.9 L1028.8,1176.0 L1030.0,1172.5 L1031.2,1169.3 L1032.4,1167.1 L1035.9,1164.9 L1039.3,1164.9 L1042.5,1165.8 L1045.8,1167.9 L1046.6,1172.2 L1047.3,1174.9 L1048.1,1177.4 L1048.9,1180.4 L1049.6,1184.8 L1050.4,1187.4 L1051.4,1190.9 L1052.4,1193.1 L1053.4,1197.0 L1054.3,1199.8 L1059.8,1201.4 L1064.6,1198.9 L1065.5,1196.3 L1066.5,1192.8 L1067.4,1189.8 L1068.3,1186.3 L1069.2,1184.3 L1071.5,1181.7 L1073.8,1179.7 L1076.1,1176.8 L1079.2,1176.6 L1082.4,1175.2 L1085.5,1174.5 L1088.5,1174.9 L1091.5,1175.6 L1094.5,1175.5 L1097.5,1175.5 L1100.9,1175.6 L1104.3,1176.1 L1107.7,1176.0 L1111.2,1177.5 L1114.6,1174.8 L1118.0,1173.0 L1121.4,1169.8 L1124.9,1168.3 L1130.0,1169.8 L1132.6,1172.8 L1135.1,1176.0 L1138.1,1177.1 L1141.1,1177.7 L1144.1,1174.7 L1147.1,1171.6 L1151.4,1171.8 L1155.7,1171.6 L1159.1,1172.5 L1162.5,1171.5 L1165.9,1171.8 L1169.4,1172.0 L1172.8,1172.0 L1176.2,1172.3 L1179.6,1172.3 L1183.1,1172.6 L1186.5,1172.0 L1189.9,1172.6 L1193.2,1171.2 L1196.6,1171.4 L1200.0,1170.4 L1200.6,1170.4 L1203.2,1170.1 L1206.5,1170.8 L1209.8,1169.4 L1213.1,1170.2 L1216.4,1169.5 L1219.7,1170.0 L1223.0,1170.0 L1226.3,1169.1 L1229.6,1169.1 L1232.9,1169.1 L1236.2,1169.8 L1239.5,1169.9 L1242.8,1170.7 L1246.1,1171.9 L1249.4,1171.3 L1252.7,1171.5 L1256.0,1172.1 L1259.3,1171.9 L1262.6,1172.7 L1265.9,1172.7 L1269.2,1172.0 L1272.5,1172.2 L1275.8,1172.9 L1279.1,1173.4 L1282.4,1173.0 L1285.7,1172.2 L1289.0,1172.5 L1292.3,1170.6 L1295.6,1170.2 L1298.9,1171.4 L1302.2,1171.0 L1305.5,1170.7 L1308.8,1171.6 L1312.1,1172.6 L1315.4,1172.2 L1318.7,1172.3 L1322.0,1172.2 L1325.3,1172.7 L1328.6,1174.4 L1332.0,1174.3 L1335.3,1175.5 L1338.6,1174.0 L1341.9,1174.1 L1345.2,1173.6 L1348.5,1174.0 L1351.8,1173.0 L1355.1,1172.8 L1358.4,1172.5 L1361.7,1171.9 L1365.0,1171.5 L1368.3,1171.5 L1371.6,1172.9 L1374.9,1171.7 L1378.2,1172.3 L1381.5,1172.3 L1384.8,1172.7 L1388.1,1172.2 L1391.4,1173.0 L1394.7,1173.2 L1398.0,1174.4 L1401.3,1175.4 L1404.6,1174.8 L1407.9,1175.0 L1411.2,1173.9 L1414.5,1173.4 L1417.8,1174.0 L1421.1,1173.8 L1424.4,1173.8 L1427.7,1173.3 L1431.0,1173.8 L1434.3,1174.1 L1437.6,1174.6 L1440.9,1173.9 L1444.1,1173.9 L1447.3,1174.3 L1450.6,1173.2 L1453.8,1172.9 L1457.0,1173.0 L1460.3,1172.5 L1463.5,1173.4 L1466.7,1173.3 L1469.9,1172.4 L1473.2,1171.9 L1476.4,1171.7 L1479.6,1171.8 L1482.7,1171.5 L1485.7,1171.9 L1488.8,1172.1 L1491.8,1171.6 L1494.9,1171.2 L1497.9,1172.2 L1500.9,1171.1 L1504.0,1171.3 L1507.0,1171.4 L1510.1,1171.5 L1513.1,1171.0 L1516.2,1171.4 L1519.2,1171.2 L1522.5,1171.7 L1525.8,1171.3 L1529.1,1171.6 L1532.4,1171.1 L1535.7,1171.1 L1539.0,1170.6 L1542.3,1170.3 L1545.6,1170.7 L1548.9,1170.6 L1552.2,1171.2 L1555.5,1171.0 L1558.8,1171.1 L1562.1,1170.7 L1565.4,1171.6 L1568.7,1171.2 L1572.0,1170.9 L1575.3,1170.7 L1578.6,1170.7 L1582.0,1170.6 L1585.3,1171.1 L1588.6,1170.4 L1591.9,1169.9 L1595.2,1170.7 L1598.5,1170.3 L1601.8,1169.1 L1605.1,1168.8 L1608.4,1168.6 L1611.7,1168.6 L1615.0,1169.2 L1618.3,1169.2 L1621.6,1168.5 L1624.9,1167.8 L1628.2,1167.9 L1631.5,1167.7 L1634.8,1167.4 L1638.1,1166.8 L1641.4,1167.7 L1644.7,1168.2 L1648.0,1168.1 L1651.3,1167.3 L1654.6,1168.0 L1657.9,1167.5 L1661.2,1168.4 L1664.5,1168.1 L1667.7,1168.9 L1670.9,1168.6 L1674.2,1167.6 L1677.4,1167.9 L1680.6,1168.8 L1683.9,1168.1 L1687.1,1168.1 L1690.3,1168.1 L1693.5,1168.6 L1696.8,1168.9 L1700.0,1168.2 L1703.1,1168.8 L1706.2,1168.1 L1709.4,1167.4 L1712.5,1168.5 L1715.6,1167.9 L1718.8,1167.3"/>
</g>
<g fill="none" stroke="#ff0000" stroke-width="6.0" stroke-linejoin="round">
<path d="M166.6,871.8 L169.6,872.3 L172.6,872.0 L175.6,872.4 L178.6,872.5 L181.6,871.6 L184.6,871.6 L187.6,872.8 L190.6,872.0 L193.6,872.0 L196.6,873.1 L199.6,872.4 L202.6,873.0 L205.7,872.5 L208.7,872.9 L211.8,872.2 L214.8,873.0 L217.9,873.5 L220.9,873.0 L224.0,873.4 L227.0,873.4 L230.1,872.6 L233.1,873.7 L236.2,873.6 L239.2,873.2 L242.5,873.2 L245.8,874.8 L249.1,874.7 L252.4,875.4 L256.4,876.2 L260.4,876.4 L263.6,876.7 L266.7,875.9 L269.9,876.6 L273.0,876.0 L276.2,876.8 L279.4,876.7 L282.5,875.5 L285.7,875.6 L288.8,875.7 L292.0,876.8 L295.5,876.2 L299.1,876.8 L302.6,876.5 L305.9,877.8 L309.2,878.6 L312.3,879.2 L315.4,880.2 L318.5,880.8 L321.8,881.2 L325.1,880.7 L328.4,880.9 L331.7,880.6 L335.0,880.7 L338.3,880.0 L341.6,879.1 L344.9,879.9 L347.9,880.1 L351.0,879.9 L354.0,879.4 L357.1,879.5 L360.1,878.7 L363.2,879.6 L366.2,879.2 L369.3,878.7 L372.3,878.3 L375.4,879.5 L378.4,879.6 L381.5,878.2 L384.5,879.3 L387.8,878.8 L391.1,878.5 L394.4,878.8 L397.7,879.6 L401.0,879.9 L404.3,878.7 L407.6,879.7 L410.9,878.9 L413.9,880.4 L417.0,880.3 L420.0,881.7 L423.3,881.9 L426.7,881.3 L430.0,882.1 L433.3,881.1 L436.7,880.9 L440.0,881.7 L443.3,881.0 L446.6,881.3 L449.9,881.6 L453.1,882.0 L456.4,881.4 L459.7,881.3 L463.0,882.6 L466.0,881.8 L469.0,882.8 L472.0,882.8 L475.0,882.1 L478.0,882.3 L481.0,882.4 L484.0,882.7 L487.0,882.7 L490.0,882.7 L493.2,883.1 L496.3,883.8 L499.5,883.5 L502.7,883.6 L505.8,884.3 L509.0,883.9 L513.0,885.3 L517.0,887.5 L520.3,886.9 L523.6,887.1 L526.9,886.4 L530.1,887.1 L533.4,887.4 L536.7,886.7 L540.0,887.7 L543.1,887.8 L546.3,887.0 L549.4,887.9 L552.6,887.7 L555.7,888.1 L558.9,887.7 L562.0,888.3 L565.3,888.6 L568.6,887.8 L571.9,888.1 L575.1,889.3 L578.4,890.0 L581.7,889.2 L585.0,889.7 L588.1,889.9 L591.2,889.5 L594.3,889.6 L597.4,889.6 L600.5,889.7 L603.6,890.0 L606.7,889.6 L609.8,889.7 L612.9,890.3 L616.0,889.2 L619.0,890.0 L622.1,890.3 L625.2,889.6 L628.3,889.5 L631.4,890.4 L634.5,889.6 L637.6,889.5 L640.7,889.9 L643.8,890.3 L646.9,889.4 L650.0,889.7 L653.1,889.8 L656.2,890.5 L659.4,889.9 L662.5,890.5 L665.6,889.5 L668.8,889.8 L671.9,890.2 L675.0,890.6 L678.1,889.9 L681.2,889.6 L684.4,889.4 L687.5,890.0 L690.6,889.5 L693.8,890.5 L696.9,890.5 L700.0,889.5 L703.0,889.7 L706.0,890.5 L709.0,890.2 L712.0,890.5 L715.0,889.8 L718.0,889.4 L721.0,889.7 L724.0,890.4 L727.0,889.7 L730.0,889.8 L733.0,889.9 L736.0,889.9 L739.0,889.9 L742.0,890.6 L745.0,889.5 L748.0,889.3 L751.0,890.7 L754.0,890.6 L757.0,890.7 L760.0,889.9 L763.1,890.7 L766.2,890.6 L769.2,889.6 L772.3,890.4 L775.4,890.5 L778.5,890.2 L781.5,890.0 L784.6,889.7 L787.7,889.8 L790.8,889.6 L793.8,889.4 L796.9,890.1 L800.0,889.7 L803.0,890.4 L806.0,889.2 L809.0,890.5 L812.0,890.1 L815.0,890.4 L818.0,890.3 L821.0,890.2 L824.0,889.7 L827.0,888.8 L830.0,889.9 L833.0,889.0 L836.0,889.2 L839.0,889.7 L842.0,889.5 L845.0,889.3 L848.0,890.0 L851.0,889.5 L854.0,889.1 L857.0,888.9 L860.0,889.8 L863.3,889.3 L866.7,889.8 L870.0,889.2 L873.3,889.0 L876.7,889.5 L880.0,890.0 L883.3,888.3 L886.7,888.5 L890.0,887.9 L893.7,886.2 L897.3,884.6 L900.8,881.4 L904.3,880.2 L906.6,877.9 L909.0,874.0 L910.1,870.6 L911.1,866.9 L912.2,863.6 L912.6,860.3 L913.0,857.2 L913.5,854.5 L913.9,850.2 L914.4,847.1 L914.7,844.1 L915.1,840.9 L915.4,837.7 L915.8,835.9 L916.1,832.5 L916.5,828.2 L916.8,825.7 L917.2,822.2 L917.5,819.1 L917.9,816.0 L918.3,813.2 L918.7,810.0 L919.1,806.5 L919.5,803.1 L919.9,800.1 L920.4,796.7 L920.8,794.1 L921.2,791.2 L921.6,787.6 L922.0,783.9 L922.3,780.9 L922.7,778.1 L923.1,775.2 L923.5,772.4 L923.9,768.6 L924.2,766.1 L924.6,762.6 L925.0,759.2 L925.4,755.9 L925.8,753.0 L926.2,750.1 L926.7,746.5 L927.2,743.8 L927.7,740.3 L931.1,736.8 L934.8,736.5 L938.5,736.0 L942.2,734.3 L945.4,734.4 L948.5,733.9 L951.7,730.8 L952.3,727.9 L952.9,724.0 L953.6,721.8 L954.2,718.6 L954.8,714.7 L955.5,711.8 L956.1,708.1 L956.7,706.0 L957.4,702.6 L958.0,699.8 L958.6,696.5 L959.3,693.1 L959.9,690.1 L960.5,686.7 L961.2,682.8 L961.8,680.4 L962.4,676.3 L963.1,673.4 L963.5,671.2 L964.0,666.9 L964.4,663.8 L964.9,660.7 L965.4,658.7 L965.8,654.5 L966.3,651.1 L966.8,649.2 L967.2,644.9 L967.7,642.8 L968.1,639.4 L968.6,636.5 L969.1,633.5 L969.4,629.8 L969.7,627.0 L970.1,622.7 L970.4,620.6 L970.8,617.0 L971.1,614.2 L971.4,610.1 L971.8,607.9 L972.1,605.0 L972.4,600.6 L972.8,597.8 L973.1,595.0 L973.5,592.2 L973.8,588.2 L974.0,584.9 L974.3,581.9 L974.5,579.3 L974.8,576.3 L975.0,572.6 L975.3,569.4 L975.5,566.3 L975.7,563.1 L976.0,560.0 L976.2,556.3 L976.5,553.8 L976.7,551.4 L977.0,547.4 L977.2,544.7 L977.4,540.7 L977.6,538.3 L977.8,535.2 L978.0,531.9 L978.2,528.5 L978.4,525.3 L978.7,522.4 L978.9,519.6 L979.1,515.3 L979.3,512.1 L979.5,509.9 L979.7,507.0 L979.9,503.3 L980.1,500.0 L980.3,497.4 L980.4,493.6 L980.5,490.7 L980.6,487.6 L980.8,485.2 L980.9,481.8 L981.0,478.6 L981.1,476.3 L981.3,473.7 L981.4,469.7 L981.5,467.3 L981.6,463.9 L981.8,461.6 L981.9,458.1 L982.0,454.7 L982.1,451.6 L982.3,448.3 L982.4,446.0 L982.5,442.8 L982.7,439.5 L982.7,436.7 L982.8,433.6 L982.8,431.2 L982.9,427.2 L982.9,425.4 L983.0,421.5 L983.0,418.6 L983.1,415.4 L983.1,412.8 L983.2,409.7 L983.2,406.3 L983.3,403.1 L983.3,400.4 L983.4,397.5 L983.4,393.7 L983.5,391.2 L983.5,388.4 L983.6,384.6 L983.6,381.2 L983.7,378.1 L983.7,375.8 L983.8,372.6 L983.8,370.0 L983.9,366.8 L983.9,362.8 L984.2,359.6 L984.5,356.7 L984.8,353.5 L985.1,351.3 L985.4,348.5 L985.7,345.5 L986.1,341.5 L986.4,339.3 L986.7,335.4 L987.0,332.6 L987.3,329.7 L987.7,325.5 L988.1,322.2 L988.5,320.0 L988.9,315.9 L989.3,312.7 L989.6,309.7 L990.0,306.5 L990.4,302.4 L990.8,299.8 L991.2,296.8 L991.6,293.7 L992.0,290.2 L992.4,287.6 L992.7,285.1 L993.1,281.1 L993.5,278.2 L993.9,274.4 L994.3,271.6 L994.7,269.0 L995.1,265.1 L995.6,263.2 L996.0,260.3 L996.5,256.1 L997.0,254.4 L997.5,250.6 L997.9,248.2 L998.4,245.2 L998.9,241.5 L999.4,239.1 L999.8,236.1 L1000.3,233.3 L1000.8,229.5 L1001.3,227.3 L1001.7,224.6 L1002.2,221.2 L1002.8,217.4 L1003.4,213.3 L1004.0,210.3 L1004.6,206.5 L1005.5,203.5 L1006.3,199.9 L1008.7,197.7 L1011.3,197.1 L1014.0,202.9 L1016.4,206.9 L1018.5,206.6 L1020.5,206.3 L1021.5,202.9 L1022.5,199.0 L1024.6,196.2 L1027.0,194.4 L1029.0,196.3 L1029.6,199.9 L1030.1,202.8 L1030.6,205.8 L1031.2,209.2 L1031.7,212.2 L1032.2,215.3 L1032.7,218.4 L1033.2,221.4 L1033.8,225.6 L1034.4,228.8 L1034.9,231.6 L1035.5,235.1 L1036.1,237.7 L1036.6,240.7 L1037.2,244.0 L1037.8,247.9 L1038.6,249.7 L1039.4,253.5 L1040.3,256.1 L1041.1,259.9 L1042.0,262.4 L1042.8,265.4 L1043.8,268.5 L1044.9,271.8 L1045.9,275.2 L1046.9,277.6 L1047.9,281.4 L1048.9,283.3 L1050.5,286.6 L1052.0,289.4 L1053.5,292.5 L1055.0,296.5 L1057.6,300.0 L1060.1,302.7 L1064.8,301.7 L1069.2,303.1 L1071.3,305.9 L1073.3,308.4 L1075.3,310.5 L1077.4,312.5 L1079.4,314.2 L1081.4,316.9 L1083.5,319.0 L1087.5,321.0 L1091.6,322.6 L1095.7,320.5 L1099.7,319.1 L1102.8,319.6 L1105.8,318.1 L1108.9,318.9 L1110.9,316.2 L1112.9,313.4 L1116.0,309.1 L1119.0,310.0 L1122.1,312.5 L1123.1,316.6 L1124.1,321.2 L1125.1,323.8 L1126.1,326.3 L1129.2,328.1 L1132.2,328.6 L1134.9,327.4 L1137.6,326.2 L1140.3,323.8 L1143.4,328.0 L1146.4,330.9 L1149.0,328.6 L1151.5,326.6 L1153.0,323.0 L1154.6,319.0 L1157.6,320.5 L1160.7,320.8 L1163.4,322.9 L1166.1,324.4 L1168.8,325.5 L1172.2,324.6 L1175.6,324.2 L1178.9,323.1 L1182.3,323.0 L1185.7,325.0 L1189.1,325.8 L1192.7,325.1 L1196.2,325.9 L1199.8,325.9 L1203.3,325.9 L1206.7,325.6 L1210.1,325.2 L1213.5,323.3 L1216.9,325.1 L1220.3,325.9 L1223.6,326.0 L1226.3,328.5 L1229.1,329.4 L1231.8,331.3 L1234.5,328.6 L1237.2,326.3 L1239.9,323.3 L1243.3,324.3 L1246.7,324.9 L1250.0,325.1 L1253.2,325.5 L1257.2,325.0 L1261.1,323.6 L1265.1,322.0 L1269.1,320.9 L1272.4,322.3 L1275.7,323.8 L1278.3,325.3 L1280.9,327.3 L1283.6,329.2 L1286.9,329.2 L1290.2,329.4 L1293.3,328.9 L1296.3,327.5 L1299.4,326.8 L1303.1,326.9 L1306.7,326.1 L1310.3,325.4 L1313.9,326.2 L1317.2,327.2 L1320.5,328.0 L1325.8,329.3 L1329.1,327.6 L1332.4,325.7 L1335.7,324.5 L1339.0,323.5 L1342.6,324.5 L1346.1,326.0 L1349.6,325.7 L1353.6,327.5 L1357.5,328.4 L1360.8,327.8 L1364.1,327.0 L1368.1,326.1 L1372.0,324.4 L1376.0,325.2 L1380.0,326.3 L1385.3,327.7 L1388.6,326.5 L1391.9,324.2 L1395.2,324.3 L1398.5,325.1 L1401.8,325.3 L1405.1,325.9 L1408.6,324.9 L1412.1,325.4 L1415.6,325.4 L1418.7,324.2 L1421.8,324.9 L1424.9,323.2 L1427.9,323.2 L1431.0,324.0 L1434.1,323.7 L1437.4,325.7 L1440.7,326.6 L1444.0,326.6 L1447.3,326.9 L1450.6,328.2 L1453.9,327.9 L1457.3,328.4 L1460.8,327.6 L1464.2,328.1 L1467.6,326.8 L1471.1,326.5 L1474.4,326.5 L1477.7,327.3 L1481.0,327.1 L1484.3,326.6 L1487.1,327.3 L1490.0,329.1 L1493.2,329.3 L1496.3,328.5 L1499.5,327.3 L1502.7,327.1 L1505.8,326.9 L1509.3,326.9 L1512.7,326.6 L1516.1,326.5 L1519.6,327.2 L1523.0,327.5 L1526.5,326.6 L1530.1,328.0 L1533.6,327.5 L1536.2,329.6 L1538.9,331.5 L1542.2,329.8 L1545.5,326.8 L1548.9,327.1 L1552.3,327.4 L1555.8,327.8 L1559.2,326.4 L1562.6,326.6 L1566.1,327.1 L1569.5,325.8 L1572.9,325.9 L1576.4,325.6 L1579.8,325.8 L1583.8,325.2 L1587.7,323.1 L1591.0,325.9 L1594.3,327.9 L1597.9,328.2 L1601.6,327.9 L1605.2,328.7 L1608.8,328.0 L1612.1,327.6 L1615.4,326.8 L1618.7,327.1 L1622.0,326.2 L1625.3,324.9 L1628.6,323.7 L1632.0,326.2 L1635.3,327.7 L1638.6,327.9 L1641.9,327.4 L1645.2,327.5 L1648.5,327.0 L1651.8,327.9 L1655.1,326.8 L1658.4,327.6 L1661.7,328.1 L1665.0,328.1 L1668.3,327.4 L1671.6,327.7 L1674.9,328.7 L1678.2,328.5 L1681.5,329.0 L1684.8,329.1 L1688.1,328.6 L1691.4,329.3 L1694.7,329.2 L1698.1,328.7 L1701.5,328.9 L1705.0,328.6 L1708.4,329.2 L1711.8,330.2 L1715.5,329.6 L1719.1,330.9"/>
<path d="M166.6,883.7 L169.6,883.5 L172.6,883.9 L175.6,883.5 L178.6,883.4 L181.6,883.9 L184.6,884.6 L187.6,884.4 L190.6,884.4 L193.6,883.5 L196.6,884.0 L199.6,883.6 L202.6,883.4 L205.7,883.3 L208.7,883.4 L211.8,884.5 L214.8,884.4 L217.9,884.3 L220.9,884.3 L224.0,883.4 L227.0,883.5 L230.1,884.0 L233.1,884.2 L236.2,884.3 L239.2,884.4 L242.3,883.2 L245.4,883.9 L248.5,884.0 L251.6,883.7 L254.7,883.2 L257.8,883.6 L260.9,883.0 L264.0,884.3 L267.2,884.1 L270.3,883.6 L273.4,883.2 L276.5,884.1 L279.6,883.6 L282.7,884.0 L285.8,884.0 L288.9,883.4 L292.0,883.3 L295.1,883.6 L298.2,883.4 L301.3,883.0 L304.4,883.3 L307.6,884.1 L310.7,883.0 L313.8,883.0 L316.9,883.9 L320.0,883.4 L323.1,883.9 L326.2,883.8 L329.3,883.7 L332.5,884.7 L335.6,883.5 L338.7,883.9 L341.8,883.6 L344.9,884.3 L347.9,883.8 L350.9,883.9 L353.9,884.5 L356.9,883.9 L359.9,884.3 L362.9,884.9 L365.9,883.7 L368.9,883.6 L371.9,883.9 L374.9,884.7 L377.9,884.5 L380.9,884.0 L384.0,884.2 L387.0,884.0 L390.0,884.4 L393.0,883.8 L396.0,884.8 L399.0,885.1 L402.0,885.2 L405.0,884.9 L408.0,885.3 L411.0,883.9 L414.0,884.3 L417.0,885.4 L420.0,885.1 L423.3,884.7 L426.7,885.6 L430.0,885.3 L433.3,885.7 L436.7,885.1 L440.0,885.0 L443.1,885.5 L446.2,885.2 L449.2,885.7 L452.3,886.7 L455.4,885.8 L458.5,885.5 L461.5,885.6 L464.6,885.9 L467.7,887.0 L470.8,886.4 L473.8,886.5 L476.9,886.3 L480.0,887.7 L483.0,887.0 L486.0,886.9 L489.0,886.8 L492.0,886.9 L495.0,887.3 L498.0,888.2 L501.0,887.5 L504.0,887.5 L507.0,888.3 L510.0,888.1 L513.0,889.4 L516.0,888.2 L519.0,889.0 L522.0,889.5 L525.0,889.1 L528.0,890.1 L531.0,889.5 L534.0,889.3 L537.0,889.7 L540.0,889.3 L543.1,890.2 L546.2,890.2 L549.2,891.5 L552.3,891.7 L555.4,891.5 L558.5,891.1 L561.5,891.8 L564.6,892.1 L567.7,892.3 L570.8,892.7 L573.8,893.9 L576.9,893.2 L580.0,893.3 L583.1,894.9 L586.2,894.6 L589.2,895.5 L592.3,894.9 L595.4,895.9 L598.5,895.8 L601.5,896.2 L604.6,896.4 L607.7,896.3 L610.8,895.9 L613.8,896.4 L616.9,897.6 L620.0,897.9 L623.1,898.0 L626.2,897.2 L629.4,897.7 L632.5,898.0 L635.6,897.8 L638.8,898.1 L641.9,897.7 L645.0,898.0 L648.1,898.1 L651.2,897.5 L654.4,898.6 L657.5,898.7 L660.6,897.4 L663.8,898.8 L666.9,898.8 L670.0,898.5 L673.0,897.6 L676.0,899.0 L679.0,897.9 L682.0,899.2 L685.0,898.9 L688.0,898.0 L691.0,898.3 L694.0,899.0 L697.0,899.0 L700.0,899.4 L703.1,899.7 L706.2,898.8 L709.3,898.5 L712.4,900.0 L715.5,898.7 L718.6,900.1 L721.7,899.1 L724.8,900.2 L727.9,900.3 L731.0,900.5 L734.0,900.1 L737.1,900.7 L740.2,899.8 L743.3,900.6 L746.4,900.2 L749.5,901.1 L752.6,901.0 L755.7,900.7 L758.8,900.8 L761.9,900.2 L765.0,900.3 L768.1,901.3 L771.2,901.3 L774.2,902.0 L777.3,901.8 L780.4,901.2 L783.5,901.7 L786.5,902.5 L789.6,902.3 L792.7,901.7 L795.8,903.0 L798.8,903.2 L801.9,902.2 L805.0,903.1 L808.0,902.8 L811.0,903.4 L814.0,902.6 L817.0,902.5 L820.0,902.8 L823.0,903.5 L826.0,902.2 L829.0,902.2 L832.0,902.9 L835.0,903.3 L838.0,902.7 L841.0,902.6 L844.0,903.2 L847.0,903.0 L850.0,902.0 L853.2,903.1 L856.4,902.0 L859.5,902.1 L862.7,902.8 L865.9,902.1 L869.1,902.6 L872.3,901.6 L875.5,902.6 L878.6,901.5 L881.8,901.3 L885.0,901.8 L888.8,901.6 L892.6,902.0 L896.4,902.6 L899.7,902.3 L903.0,901.2 L906.3,903.4 L908.3,907.0 L909.3,910.1 L910.4,913.6 L911.5,916.5 L912.5,919.0 L913.6,922.4 L916.2,926.6 L918.9,929.2 L922.8,932.5 L926.1,930.8 L929.4,928.3 L932.7,927.7 L936.0,926.9 L939.3,927.8 L942.6,930.0 L945.9,927.4 L949.2,926.1 L954.5,925.2 L957.2,928.7 L959.8,931.2 L965.1,932.9 L967.7,930.3 L970.4,927.6 L971.7,925.4 L973.0,921.7 L974.3,919.1 L976.3,915.0 L977.6,912.9 L978.1,916.1 L978.5,920.2 L978.9,922.3 L979.3,926.7 L979.6,929.2 L979.9,932.8 L980.3,935.8 L980.7,939.5 L981.1,942.0 L981.5,945.8 L981.9,949.9 L982.3,952.0 L982.7,956.1 L983.1,958.9 L983.6,962.1 L984.0,965.1 L984.5,968.5 L985.0,973.3 L985.4,976.5 L985.9,979.9 L986.4,983.3 L986.9,986.9 L989.2,988.3 L991.5,991.6 L996.8,994.1 L998.5,997.3 L1000.3,1000.9 L1002.0,1003.8 L1004.7,1006.1 L1007.3,1006.8 L1010.0,1003.6 L1011.3,1000.3 L1012.6,997.1 L1013.4,993.5 L1014.2,990.4 L1015.0,986.2 L1015.8,983.7 L1016.6,979.5 L1017.4,976.8 L1018.2,974.3 L1019.0,971.0 L1019.9,967.4 L1021.9,962.0 L1023.8,967.5 L1024.7,970.9 L1025.5,974.4 L1026.3,977.2 L1027.1,979.4 L1028.2,982.3 L1029.3,985.8 L1030.4,987.9 L1031.5,990.9 L1032.6,993.2 L1033.7,996.3 L1035.1,999.7 L1036.4,1002.9 L1037.7,1005.7 L1039.0,1008.2 L1040.3,1012.0 L1041.7,1014.4 L1043.0,1016.6 L1044.3,1019.4 L1045.6,1023.6 L1046.9,1026.5 L1048.6,1029.1 L1050.2,1031.3 L1051.9,1033.5 L1053.5,1035.8 L1056.8,1037.0 L1060.1,1037.9 L1063.4,1038.0 L1066.7,1037.0 L1070.1,1038.8 L1073.4,1039.8 L1076.7,1037.3 L1080.0,1034.8 L1083.9,1035.1 L1087.9,1033.2 L1091.2,1034.8 L1094.5,1035.3 L1097.1,1033.4 L1099.8,1032.2 L1102.4,1029.4 L1105.5,1030.0 L1108.6,1029.7 L1111.6,1029.8 L1114.7,1030.0 L1117.8,1030.6 L1120.9,1030.5 L1123.9,1027.8 L1126.8,1026.6 L1128.0,1021.6 L1129.2,1018.7 L1131.9,1015.8 L1134.5,1013.2 L1137.2,1016.4 L1139.8,1020.1 L1142.4,1023.3 L1145.1,1026.4 L1146.8,1023.5 L1148.6,1021.0 L1150.4,1018.4 L1153.7,1018.8 L1157.0,1019.4 L1160.3,1019.6 L1163.6,1021.3 L1166.7,1019.4 L1169.7,1017.5 L1172.8,1016.3 L1176.3,1016.9 L1179.9,1015.5 L1183.4,1015.3 L1186.7,1015.2 L1190.0,1015.0 L1193.3,1013.7 L1196.6,1013.3 L1199.8,1013.1 L1202.9,1012.2 L1206.1,1013.3 L1209.3,1011.7 L1212.4,1012.8 L1215.7,1011.6 L1219.0,1011.6 L1222.3,1012.7 L1225.6,1012.6 L1228.9,1011.8 L1232.2,1012.2 L1235.5,1012.1 L1238.8,1012.5 L1242.1,1011.7 L1245.4,1012.6 L1248.7,1012.9 L1252.0,1012.5 L1255.1,1011.9 L1258.2,1011.1 L1261.3,1009.3 L1265.3,1011.0 L1269.2,1012.0 L1272.4,1012.0 L1275.6,1011.7 L1278.7,1012.9 L1281.9,1013.7 L1285.1,1013.2 L1288.4,1014.0 L1291.7,1014.7 L1295.0,1014.6 L1298.3,1014.1 L1301.6,1015.3 L1304.9,1015.1 L1308.2,1016.3 L1311.5,1016.4 L1315.0,1015.4 L1318.5,1015.8 L1322.0,1015.0 L1326.0,1012.9 L1330.0,1012.0 L1333.3,1013.4 L1336.6,1014.7 L1340.5,1015.0 L1344.5,1015.0 L1347.6,1014.0 L1350.6,1012.8 L1353.7,1011.5 L1357.2,1012.7 L1360.8,1012.2 L1364.3,1012.2 L1367.1,1014.1 L1370.0,1014.8 L1373.3,1015.0 L1376.6,1015.3 L1379.9,1014.9 L1383.2,1015.0 L1386.5,1015.0 L1389.8,1016.2 L1393.1,1016.6 L1396.4,1016.4 L1399.7,1015.5 L1403.0,1016.8 L1406.3,1016.6 L1409.6,1016.1 L1412.9,1015.4 L1416.2,1016.6 L1419.5,1016.3 L1422.8,1016.3 L1426.1,1015.3 L1429.4,1016.3 L1432.7,1015.2 L1436.0,1015.8 L1439.3,1015.2 L1442.6,1015.4 L1445.9,1016.1 L1449.2,1015.8 L1452.6,1015.9 L1456.0,1015.2 L1459.4,1015.3 L1462.8,1015.6 L1466.2,1014.8 L1469.6,1015.3 L1473.0,1016.2 L1476.3,1017.5 L1479.6,1019.3 L1482.8,1018.6 L1485.9,1019.3 L1489.1,1019.6 L1492.3,1019.6 L1495.4,1019.3 L1498.7,1018.9 L1502.0,1018.7 L1505.3,1020.0 L1508.6,1020.1 L1512.0,1020.1 L1515.3,1021.8 L1518.6,1019.9 L1521.9,1019.0 L1525.2,1019.1 L1528.5,1018.2 L1531.8,1018.4 L1535.1,1017.7 L1538.4,1018.4 L1541.7,1018.1 L1545.0,1018.7 L1548.3,1019.1 L1551.6,1020.4 L1554.9,1019.5 L1558.2,1020.3 L1561.5,1019.1 L1564.8,1020.3 L1568.1,1018.9 L1571.4,1018.7 L1574.7,1018.8 L1578.0,1019.7 L1581.3,1019.2 L1584.6,1019.5 L1587.9,1018.8 L1590.9,1017.9 L1593.9,1017.9 L1597.0,1017.7 L1600.0,1018.2 L1603.3,1017.1 L1606.6,1017.4 L1609.9,1018.5 L1613.2,1017.5 L1616.5,1017.5 L1619.8,1015.2 L1623.1,1015.6 L1626.4,1015.7 L1629.7,1016.1 L1633.0,1014.8 L1636.3,1016.0 L1639.6,1015.0 L1642.9,1015.9 L1646.2,1014.9 L1649.5,1016.1 L1652.8,1015.3 L1656.1,1015.4 L1659.4,1015.3 L1662.7,1015.8 L1666.0,1015.9 L1669.3,1016.7 L1672.6,1015.9 L1675.9,1015.4 L1679.2,1016.2 L1682.5,1014.8 L1685.8,1014.7 L1689.1,1015.6 L1692.4,1015.5 L1695.7,1015.2 L1699.0,1015.8 L1702.3,1014.6 L1705.6,1016.1 L1708.9,1015.9 L1712.2,1016.0 L1715.5,1016.5 L1718.8,1015.5"/>
<path d="M166.6,895.5 L169.6,895.6 L172.7,895.6 L175.7,895.7 L178.7,895.4 L181.8,895.6 L184.8,894.2 L187.9,894.7 L190.9,895.4 L193.9,894.9 L197.0,895.2 L200.0,893.9 L203.1,894.4 L206.2,894.1 L209.2,894.5 L212.3,894.5 L215.4,893.7 L218.5,894.0 L221.5,894.1 L224.6,895.0 L227.7,894.8 L230.8,893.8 L233.8,894.8 L236.9,893.8 L240.0,894.5 L243.3,894.0 L246.7,894.1 L250.0,895.6 L253.3,894.9 L256.7,895.1 L260.0,896.5 L263.0,896.4 L266.1,895.5 L269.1,896.5 L272.1,895.9 L275.2,896.1 L278.2,895.4 L281.2,896.5 L284.2,896.1 L287.3,896.6 L290.3,896.5 L293.3,895.6 L296.4,895.7 L299.4,895.4 L302.4,895.4 L305.5,895.2 L308.5,895.6 L311.5,896.1 L314.5,895.2 L317.6,896.2 L320.6,895.7 L323.6,895.6 L326.7,896.4 L329.7,895.9 L332.7,895.7 L335.8,895.9 L338.8,896.3 L341.8,895.3 L344.8,896.7 L347.9,895.3 L350.9,896.4 L353.9,896.5 L357.0,895.3 L360.0,896.4 L363.3,896.2 L366.7,896.9 L370.0,896.4 L373.3,896.9 L376.7,897.4 L380.0,899.0 L383.3,897.6 L386.7,898.2 L390.0,898.2 L393.3,898.0 L396.7,896.8 L400.0,896.6 L403.3,896.7 L406.7,897.0 L410.0,895.9 L413.3,896.8 L416.7,896.7 L420.0,896.7 L423.0,895.5 L426.0,896.9 L429.0,895.6 L432.0,896.0 L435.0,896.5 L438.0,896.9 L441.0,896.1 L444.0,897.0 L447.0,896.4 L450.0,896.1 L453.0,896.1 L456.0,896.0 L459.0,895.8 L462.0,896.0 L465.0,896.8 L468.0,897.3 L471.0,896.0 L474.0,895.9 L477.0,897.3 L480.0,896.7 L483.0,896.5 L486.0,896.2 L489.0,896.8 L492.0,897.2 L495.0,896.6 L498.0,896.6 L501.0,896.1 L504.0,897.4 L507.0,896.1 L510.0,896.8 L513.0,897.3 L516.0,896.3 L519.0,897.2 L522.0,897.6 L525.0,897.1 L528.0,897.4 L531.0,896.3 L534.0,896.9 L537.0,896.5 L540.0,897.5 L543.0,896.8 L546.0,897.1 L549.0,898.0 L552.0,897.8 L555.0,898.1 L558.0,897.4 L561.0,897.5 L564.0,897.9 L567.0,897.6 L570.0,897.4 L573.0,897.7 L576.0,897.4 L579.0,897.8 L582.0,898.8 L585.0,898.8 L588.0,898.4 L591.0,898.3 L594.0,898.1 L597.0,897.8 L600.0,898.2 L603.0,898.9 L606.1,899.1 L609.1,898.3 L612.1,899.0 L615.2,899.0 L618.2,898.9 L621.2,898.9 L624.2,899.0 L627.3,898.4 L630.3,899.0 L633.3,898.3 L636.4,898.7 L639.4,899.1 L642.4,899.0 L645.5,898.4 L648.5,899.4 L651.5,899.0 L654.5,898.9 L657.6,898.1 L660.6,898.9 L663.6,898.4 L666.7,899.1 L669.7,898.8 L672.7,899.3 L675.8,899.1 L678.8,899.3 L681.8,898.7 L684.8,899.1 L687.9,899.3 L690.9,899.4 L693.9,898.7 L697.0,899.5 L700.0,899.6 L703.0,899.3 L706.1,899.7 L709.1,899.7 L712.1,899.1 L715.2,899.1 L718.2,898.6 L721.2,899.6 L724.2,899.7 L727.3,899.0 L730.3,899.4 L733.3,899.4 L736.4,899.5 L739.4,898.6 L742.4,899.5 L745.5,899.3 L748.5,899.4 L751.5,899.0 L754.5,899.3 L757.6,899.6 L760.6,899.4 L763.6,899.5 L766.7,898.5 L769.7,898.7 L772.7,899.1 L775.8,899.5 L778.8,898.8 L781.8,899.5 L784.8,899.5 L787.9,898.6 L790.9,899.2 L793.9,898.9 L797.0,898.6 L800.0,898.8 L803.0,899.0 L806.1,898.8 L809.1,898.9 L812.1,898.6 L815.2,899.3 L818.2,899.2 L821.2,899.5 L824.3,899.5 L827.3,899.0 L830.4,900.0 L833.4,898.6 L836.4,899.2 L839.5,899.1 L842.5,899.3 L845.5,898.8 L848.6,899.9 L851.6,899.2 L854.6,898.7 L857.7,899.6 L860.7,898.8 L863.8,899.5 L866.8,899.2 L869.8,899.6 L872.9,900.2 L875.9,900.0 L878.9,899.4 L882.0,900.0 L885.0,899.7 L888.8,900.3 L892.6,900.9 L896.4,902.5 L898.7,906.1 L901.0,910.3 L901.9,913.6 L902.7,916.4 L903.5,919.3 L904.3,923.4 L905.1,925.1 L905.8,928.3 L906.6,932.0 L907.4,935.1 L908.1,937.4 L908.9,941.1 L909.6,944.5 L910.2,946.8 L910.7,949.9 L911.3,952.6 L911.9,955.7 L912.4,959.7 L913.0,961.9 L913.6,965.8 L914.2,968.8 L914.9,971.4 L915.6,974.0 L916.2,978.1 L916.9,980.5 L917.5,983.4 L918.3,986.7 L919.1,991.2 L919.9,993.8 L920.7,997.0 L921.5,1000.7 L923.5,1004.1 L926.1,1003.5 L927.2,999.8 L928.3,996.0 L929.4,993.2 L930.4,990.0 L931.4,985.5 L932.4,982.9 L933.4,979.3 L937.3,978.3 L941.3,976.1 L944.4,975.3 L947.5,975.3 L950.5,975.1 L952.7,979.0 L955.0,980.6 L957.2,983.7 L958.2,986.7 L959.3,990.1 L960.3,993.2 L961.4,996.6 L962.4,998.8 L963.8,1003.0 L965.1,1005.4 L966.4,1009.0 L967.7,1011.8 L969.0,1014.9 L969.9,1018.6 L970.8,1021.8 L971.7,1024.9 L972.6,1028.8 L973.4,1031.9 L974.3,1034.4 L974.2,1039.6 L974.6,1043.0 L975.0,1046.8 L975.4,1049.9 L975.8,1052.5 L976.2,1054.8 L976.6,1059.1 L977.0,1061.7 L977.3,1065.0 L977.7,1068.3 L978.1,1071.3 L978.5,1074.2 L979.0,1078.0 L979.4,1080.3 L979.9,1083.4 L980.4,1087.2 L980.8,1089.3 L981.3,1092.6 L981.8,1096.5 L982.2,1098.5 L982.7,1102.7 L983.2,1105.6 L983.6,1108.4 L984.1,1111.3 L984.6,1115.1 L985.0,1118.4 L985.5,1120.4 L986.0,1124.0 L986.4,1127.2 L986.9,1130.2 L987.4,1133.1 L987.8,1136.0 L988.3,1139.7 L988.8,1143.2 L989.1,1145.2 L989.5,1148.5 L989.9,1152.5 L990.2,1155.6 L990.6,1158.5 L990.9,1160.7 L991.3,1164.8 L991.6,1168.3 L992.0,1171.5 L992.4,1174.1 L992.7,1176.3 L993.0,1180.6 L993.3,1182.7 L993.7,1186.5 L994.0,1190.1 L994.3,1192.8 L994.6,1195.1 L994.9,1198.4 L995.2,1202.5 L995.5,1204.4 L995.8,1208.2 L996.1,1211.0 L996.4,1213.8 L996.7,1217.6 L997.0,1219.8 L997.3,1223.0 L997.5,1226.5 L997.8,1229.2 L998.1,1232.3 L998.4,1236.2 L998.7,1239.5 L998.9,1242.9 L999.2,1244.8 L999.7,1248.4 L1000.2,1251.3 L1000.7,1254.8 L1001.1,1257.7 L1001.6,1261.5 L1003.7,1257.2 L1004.2,1253.7 L1004.7,1251.7 L1005.1,1247.9 L1005.6,1245.6 L1006.1,1242.4 L1006.6,1240.0 L1007.1,1236.5 L1007.6,1233.6 L1008.3,1229.9 L1008.9,1227.1 L1009.5,1223.4 L1010.2,1221.0 L1010.8,1217.4 L1011.5,1213.6 L1012.1,1210.6 L1012.7,1207.5 L1014.1,1205.4 L1015.5,1201.8 L1016.9,1199.8 L1018.2,1197.0 L1019.6,1193.4 L1021.3,1191.1 L1023.0,1187.0 L1024.7,1183.9 L1026.4,1181.4 L1027.6,1177.9 L1028.8,1176.0 L1030.0,1172.5 L1031.2,1169.3 L1032.4,1167.1 L1035.9,1164.9 L1039.3,1164.9 L1042.5,1165.8 L1045.8,1167.9 L1046.6,1172.2 L1047.3,1174.9 L1048.1,1177.4 L1048.9,1180.4 L1049.6,1184.8 L1050.4,1187.4 L1051.4,1190.9 L1052.4,1193.1 L1053.4,1197.0 L1054.3,1199.8 L1059.8,1201.4 L1064.6,1198.9 L1065.5,1196.3 L1066.5,1192.8 L1067.4,1189.8 L1068.3,1186.3 L1069.2,1184.3 L1071.5,1181.7 L1073.8,1179.7 L1076.1,1176.8 L1079.2,1176.6 L1082.4,1175.2 L1085.5,1174.5 L1088.5,1174.9 L1091.5,1175.6 L1094.5,1175.5 L1097.5,1175.5 L1100.9,1175.6 L1104.3,1176.1 L1107.7,1176.0 L1111.2,1177.5 L1114.6,1174.8 L1118.0,1173.0 L1121.4,1169.8 L1124.9,1168.3 L1130.0,1169.8 L1132.6,1172.8 L1135.1,1176.0 L1138.1,1177.1 L1141.1,1177.7 L1144.1,1174.7 L1147.1,1171.6 L1151.4,1171.8 L1155.7,1171.6 L1159.1,1172.5 L1162.5,1171.5 L1165.9,1171.8 L1169.4,1172.0 L1172.8,1172.0 L1176.2,1172.3 L1179.6,1172.3 L1183.1,1172.6 L1186.5,1172.0 L1189.9,1172.6 L1193.2,1171.2 L1196.6,1171.4 L1200.0,1170.4 L1200.6,1170.4 L1203.2,1170.1 L1206.5,1170.8 L1209.8,1169.4 L1213.1,1170.2 L1216.4,1169.5 L1219.7,1170.0 L1223.0,1170.0 L1226.3,1169.1 L1229.6,1169.1 L1232.9,1169.1 L1236.2,1169.8 L1239.5,1169.9 L1242.8,1170.7 L1246.1,1171.9 L1249.4,1171.3 L1252.7,1171.5 L1256.0,1172.1 L1259.3,1171.9 L1262.6,1172.7 L1265.9,1172.7 L1269.2,1172.0 L1272.5,1172.2 L1275.8,1172.9 L1279.1,1173.4 L1282.4,1173.0 L1285.7,1172.2 L1289.0,1172.5 L1292.3,1170.6 L1295.6,1170.2 L1298.9,1171.4 L1302.2,1171.0 L1305.5,1170.7 L1308.8,1171.6 L1312.1,1172.6 L1315.4,1172.2 L1318.7,1172.3 L1322.0,1172.2 L1325.3,1172.7 L1328.6,1174.4 L1332.0,1174.3 L1335.3,1175.5 L1338.6,1174.0 L1341.9,1174.1 L1345.2,1173.6 L1348.5,1174.0 L1351.8,1173.0 L1355.1,1172.8 L1358.4,1172.5 L1361.7,1171.9 L1365.0,1171.5 L1368.3,1171.5 L1371.6,1172.9 L1374.9,1171.7 L1378.2,1172.3 L1381.5,1172.3 L1384.8,1172.7 L1388.1,1172.2 L1391.4,1173.0 L1394.7,1173.2 L1398.0,1174.4 L1401.3,1175.4 L1404.6,1174.8 L1407.9,1175.0 L1411.2,1173.9 L1414.5,1173.4 L1417.8,1174.0 L1421.1,1173.8 L1424.4,1173.8 L1427.7,1173.3 L1431.0,1173.8 L1434.3,1174.1 L1437.6,1174.6 L1440.9,1173.9 L1444.1,1173.9 L1447.3,1174.3 L1450.6,1173.2 L1453.8,1172.9 L1457.0,1173.0 L1460.3,1172.5 L1463.5,1173.4 L1466.7,1173.3 L1469.9,1172.4 L1473.2,1171.9 L1476.4,1171.7 L1479.6,1171.8 L1482.7,1171.5 L1485.7,1171.9 L1488.8,1172.1 L1491.8,1171.6 L1494.9,1171.2 L1497.9,1172.2 L1500.9,1171.1 L1504.0,1171.3 L1507.0,1171.4 L1510.1,1171.5 L1513.1,1171.0 L1516.2,1171.4 L1519.2,1171.2 L1522.5,1171.7 L1525.8,1171.3 L1529.1,1171.6 L1532.4,1171.1 L1535.7,1171.1 L1539.0,1170.6 L1542.3,1170.3 L1545.6,1170.7 L1548.9,1170.6 L1552.2,1171.2 L1555.5,1171.0 L1558.8,1171.1 L1562.1,1170.7 L1565.4,1171.6 L1568.7,1171.2 L1572.0,1170.9 L1575.3,1170.7 L1578.6,1170.7 L1582.0,1170.6 L1585.3,1171.1 L1588.6,1170.4 L1591.9,1169.9 L1595.2,1170.7 L1598.5,1170.3 L1601.8,1169.1 L1605.1,1168.8 L1608.4,1168.6 L1611.7,1168.6 L1615.0,1169.2 L1618.3,1169.2 L1621.6,1168.5 L1624.9,1167.8 L1628.2,1167.9 L1631.5,1167.7 L1634.8,1167.4 L1638.1,1166.8 L1641.4,1167.7 L1644.7,1168.2 L1648.0,1168.1 L1651.3,1167.3 L1654.6,1168.0 L1657.9,1167.5 L1661.2,1168.4 L1664.5,1168.1 L1667.7,1168.9 L1670.9,1168.6 L1674.2,1167.6 L1677.4,1167.9 L1680.6,1168.8 L1683.9,1168.1 L1687.1,1168.1 L1690.3,1168.1 L1693.5,1168.6 L1696.8,1168.9 L1700.0,1168.2 L1703.1,1168.8 L1706.2,1168.1 L1709.4,1167.4 L1712.5,1168.5 L1715.6,1167.9 L1718.8,1167.3"/>
</g>
<g opacity="0.45" fill="none" stroke="#000000" stroke-width="9.2" stroke-linejoin="round">
<path d="M166.6,892.2 L169.6,892.3 L172.7,892.0 L175.7,891.8 L178.7,891.6 L181.8,892.1 L184.8,892.0 L187.8,892.2 L190.9,891.9 L193.9,892.2 L196.9,891.8 L199.9,892.3 L203.0,892.2 L206.0,892.0 L209.0,892.1 L212.1,892.2 L215.1,891.8 L218.1,892.1 L221.2,892.3 L224.2,891.9 L227.2,892.3 L230.3,892.2 L233.3,892.3 L236.3,891.9 L239.4,891.7 L242.4,892.3 L245.4,892.3 L248.5,892.0 L251.5,891.7 L254.5,891.8 L257.6,892.2 L260.6,891.9 L263.6,892.4 L266.6,892.1 L269.7,891.8 L272.7,892.2 L275.7,892.0 L278.8,892.4 L281.8,892.4 L284.8,892.1 L287.9,892.2 L290.9,892.3 L293.9,892.3 L297.0,892.5 L300.0,891.7 L303.0,892.0 L306.0,892.2 L309.0,891.9 L312.0,892.2 L315.0,891.8 L318.0,892.4 L321.0,892.1 L324.0,891.8 L327.0,892.2 L330.0,891.9 L333.0,891.8 L336.0,892.1 L339.0,891.8 L342.0,891.8 L345.0,892.4 L348.0,892.2 L351.0,891.7 L354.0,892.3 L357.0,891.7 L360.0,891.9 L363.0,892.4 L366.0,892.2 L369.0,891.9 L372.0,892.0 L375.0,892.0 L378.0,891.7 L381.0,892.4 L384.0,891.7 L387.0,892.0 L390.0,892.2 L393.0,892.0 L396.0,892.4 L399.0,891.8 L402.0,892.4 L405.0,892.3 L408.0,892.2 L411.0,892.3 L414.0,892.0 L417.0,892.3 L420.0,892.3 L423.0,892.0 L426.0,892.0 L429.0,892.2 L432.0,891.9 L435.0,891.7 L438.0,892.2 L441.0,891.8 L444.0,892.0 L447.0,892.2 L450.0,891.7 L453.1,891.6 L456.1,891.7 L459.2,892.1 L462.2,891.9 L465.3,891.8 L468.3,892.0 L471.4,892.3 L474.4,891.8 L477.5,891.9 L480.6,892.3 L483.6,892.1 L486.7,891.8 L489.7,892.0 L492.8,892.0 L495.8,891.7 L498.9,891.9 L501.9,891.8 L505.0,892.2 L508.1,891.9 L511.1,892.1 L514.2,892.4 L517.2,892.3 L520.3,891.9 L523.3,892.1 L526.4,891.9 L529.4,891.9 L532.5,892.0 L535.6,892.2 L538.6,892.3 L541.7,891.8 L544.7,891.6 L547.8,892.0 L550.8,891.6 L553.9,891.6 L556.9,892.2 L560.0,891.7 L563.1,892.0 L566.2,891.5 L569.4,891.8 L572.5,891.5 L575.6,890.7 L578.8,890.6 L581.9,891.0 L585.0,890.6 L588.0,890.4 L591.0,890.7 L594.0,890.7 L597.0,890.5 L600.0,890.4 L603.0,890.1 L606.0,890.3 L609.0,890.1 L612.0,890.5 L615.0,890.5 L618.0,890.1 L621.0,890.5 L624.0,890.1 L627.0,890.1 L630.0,890.5 L633.0,890.3 L636.0,890.7 L639.0,890.4 L642.0,890.5 L645.0,890.0 L648.0,890.6 L651.0,890.0 L654.0,890.4 L657.0,890.6 L660.0,890.6 L663.0,890.6 L666.0,890.2 L669.0,890.4 L672.0,890.5 L675.0,890.0 L678.0,890.6 L681.0,890.6 L684.0,890.2 L687.0,890.4 L690.0,890.2 L693.0,890.4 L696.0,891.1 L699.0,891.0 L702.0,892.0 L705.0,892.5 L708.1,891.9 L711.1,892.5 L714.2,891.8 L717.3,892.4 L720.3,891.9 L723.4,892.5 L726.5,892.1 L729.5,892.5 L732.6,891.8 L735.6,891.8 L738.7,892.4 L741.8,892.2 L744.8,892.2 L747.9,891.8 L751.0,891.9 L754.0,892.0 L757.1,891.8 L760.2,892.6 L763.2,892.4 L766.3,892.5 L769.4,892.3 L772.4,892.0 L775.5,891.8 L778.5,892.4 L781.6,891.9 L784.7,892.2 L787.7,892.2 L790.8,892.2 L793.9,891.9 L796.9,891.9 L800.0,892.2 L803.1,891.8 L806.2,892.2 L809.2,891.9 L812.3,892.0 L815.4,891.9 L818.5,892.2 L821.5,892.1 L824.6,891.9 L827.7,891.9 L830.8,892.2 L833.8,892.5 L836.9,892.1 L840.0,891.9 L843.1,892.0 L846.2,891.9 L849.2,892.2 L852.3,892.4 L855.4,892.2 L858.5,891.9 L861.5,892.0 L864.6,892.0 L867.7,892.1 L870.8,892.0 L873.8,892.5 L876.9,892.1 L880.0,892.2 L884.2,891.5 L888.5,890.6 L891.6,888.7 L894.8,886.3 L897.1,883.8 L899.5,881.4 L901.9,878.0 L904.3,875.7 L905.8,872.7 L907.4,869.6 L908.5,866.4 L909.5,863.8 L910.6,860.1 L911.4,857.5 L912.2,853.8 L913.0,850.9 L913.7,847.4 L914.3,844.7 L914.8,841.7 L915.3,838.1 L915.8,835.2 L916.4,832.3 L916.9,828.7 L917.4,825.6 L918.0,822.7 L918.5,819.6 L918.9,815.9 L919.3,813.2 L919.8,809.6 L920.2,806.4 L920.6,803.9 L921.1,800.0 L921.5,797.6 L921.9,794.3 L922.4,791.0 L922.8,787.9 L923.2,784.7 L923.6,781.2 L924.0,778.2 L924.5,774.9 L924.9,772.2 L925.3,769.0 L925.7,765.8 L926.1,762.2 L926.5,759.4 L926.9,755.9 L927.3,753.2 L928.4,749.7 L929.5,746.4 L932.1,743.6 L935.6,743.3 L939.0,743.1 L943.0,742.0 L946.9,742.0 L951.0,739.3 L953.3,735.5 L954.4,731.3 L955.5,728.0 L956.1,724.1 L956.7,721.7 L957.4,718.5 L958.0,715.0 L958.6,712.1 L959.1,708.3 L959.7,705.3 L960.3,702.0 L960.9,698.9 L961.4,695.7 L962.0,693.2 L962.6,689.4 L963.2,686.6 L963.7,683.2 L964.3,680.0 L964.8,677.0 L965.2,673.7 L965.7,671.2 L966.1,667.5 L966.6,664.5 L967.0,661.3 L967.5,658.2 L967.9,654.9 L968.4,651.6 L968.8,648.4 L969.3,645.8 L969.7,642.1 L970.2,639.1 L970.6,636.2 L971.0,632.9 L971.3,630.0 L971.7,626.8 L972.0,623.4 L972.3,619.9 L972.7,617.1 L973.0,613.8 L973.4,611.0 L973.7,607.6 L974.0,604.5 L974.4,601.5 L974.7,598.0 L975.0,595.2 L975.4,592.1 L975.6,588.3 L975.9,585.8 L976.1,582.6 L976.4,579.4 L976.6,575.8 L976.8,572.6 L977.1,569.3 L977.3,566.3 L977.6,563.6 L977.8,560.0 L978.1,556.6 L978.3,553.6 L978.5,550.3 L978.8,547.6 L979.0,544.5 L979.2,541.5 L979.4,537.7 L979.6,534.7 L979.8,531.4 L980.0,528.8 L980.2,525.6 L980.4,522.2 L980.7,519.4 L980.9,515.9 L981.1,512.9 L981.3,509.5 L981.5,506.3 L981.7,503.6 L981.8,500.5 L981.9,497.3 L982.1,494.5 L982.2,491.3 L982.3,488.4 L982.4,484.8 L982.6,481.9 L982.7,478.8 L982.8,476.2 L982.9,473.3 L983.0,469.8 L983.2,467.1 L983.3,463.8 L983.4,461.2 L983.5,458.3 L983.6,454.7 L983.8,452.4 L983.9,449.2 L984.0,445.7 L984.1,442.9 L984.2,439.7 L984.5,436.9 L984.7,433.7 L984.9,429.8 L985.1,426.4 L985.3,423.5 L985.5,420.3 L985.7,417.2 L986.0,413.9 L986.2,410.6 L986.4,407.9 L986.6,404.8 L986.8,402.0 L987.0,398.8 L987.2,395.8 L987.4,393.0 L987.6,389.7 L987.8,386.8 L988.0,383.3 L988.2,379.9 L988.4,377.4 L988.7,373.6 L988.9,371.2 L989.1,367.6 L989.3,364.2 L989.6,361.2 L989.8,358.4 L990.0,354.9 L990.4,351.7 L990.7,347.9 L991.0,345.1 L991.4,341.4 L991.7,338.4 L992.0,334.4 L992.8,331.3 L993.6,327.6 L994.3,324.0 L995.1,320.1 L995.9,317.5 L996.6,314.7 L997.4,311.0 L998.1,308.3 L998.8,304.9 L999.4,302.6 L1000.0,299.5 L1000.7,296.3 L1001.3,293.0 L1002.0,289.7 L1002.6,286.7 L1003.2,284.1 L1003.7,280.9 L1004.3,277.8 L1004.8,274.5 L1005.3,270.9 L1005.9,267.5 L1006.6,264.1 L1007.3,260.4 L1009.3,259.2 L1011.3,259.9 L1014.0,264.6 L1016.4,268.1 L1018.5,267.8 L1020.5,266.3 L1022.5,261.4 L1024.6,257.6 L1026.6,257.2 L1028.6,258.1 L1029.3,261.9 L1030.0,264.6 L1030.6,267.7 L1031.2,271.0 L1031.7,274.4 L1032.2,277.9 L1032.7,281.7 L1033.2,284.8 L1033.7,287.7 L1034.2,290.7 L1034.7,294.3 L1035.2,297.3 L1035.7,300.5 L1036.2,303.0 L1036.7,306.4 L1038.0,309.6 L1039.2,312.4 L1040.4,316.3 L1041.6,319.2 L1042.8,322.3 L1044.1,325.5 L1045.3,329.4 L1046.5,332.0 L1047.7,335.4 L1048.9,338.8 L1051.0,342.0 L1053.0,345.7 L1055.0,348.6 L1057.6,351.4 L1060.1,354.1 L1064.8,353.5 L1069.2,354.1 L1073.3,357.9 L1075.3,360.7 L1077.4,363.5 L1080.4,366.2 L1083.5,369.4 L1087.5,370.5 L1091.6,371.1 L1095.7,369.6 L1099.7,368.6 L1102.8,367.7 L1105.8,367.5 L1108.9,367.1 L1110.9,365.1 L1112.9,362.2 L1116.0,359.4 L1119.0,358.8 L1121.0,360.9 L1121.9,364.3 L1122.8,367.1 L1123.7,370.4 L1124.9,373.8 L1126.1,377.0 L1129.2,377.6 L1132.2,378.3 L1136.3,376.9 L1140.3,375.1 L1143.4,377.2 L1146.4,379.0 L1149.0,377.2 L1151.5,375.2 L1153.0,372.2 L1154.6,369.3 L1157.6,370.0 L1160.7,370.4 L1164.7,371.0 L1168.8,371.1 L1172.2,369.6 L1175.6,368.1 L1178.9,366.5 L1182.3,366.3 L1185.7,366.5 L1189.1,366.9 L1192.7,366.7 L1196.2,366.5 L1199.8,365.4 L1203.3,365.4 L1206.7,364.6 L1210.1,364.1 L1213.5,363.5 L1216.0,364.9 L1218.6,367.4 L1221.1,369.0 L1223.6,371.0 L1227.7,372.2 L1231.8,373.3 L1234.8,372.5 L1237.9,372.1 L1240.9,371.5 L1244.0,371.0 L1247.0,371.8 L1250.1,372.5 L1253.2,373.5 L1256.8,373.8 L1260.5,374.0 L1264.1,374.4 L1267.7,374.5 L1271.7,376.4 L1275.7,380.2 L1277.9,383.5 L1280.1,386.3 L1282.3,389.3 L1284.5,391.9 L1286.7,395.0 L1288.9,397.2 L1292.2,398.6 L1295.5,400.0 L1299.4,400.5 L1303.4,400.9 L1305.4,398.6 L1307.3,396.3 L1309.1,392.9 L1310.9,390.4 L1312.6,387.1 L1315.9,384.6 L1319.2,382.3 L1321.9,380.7 L1324.5,378.7 L1326.7,376.1 L1328.9,373.2 L1331.1,369.7 L1334.4,367.8 L1337.7,367.0 L1341.0,367.9 L1344.3,369.0 L1346.5,371.4 L1348.7,374.1 L1350.9,376.3 L1352.6,379.4 L1354.2,381.6 L1355.9,384.4 L1357.5,386.8 L1360.8,389.4 L1364.1,389.6 L1366.8,388.0 L1369.4,385.9 L1370.7,382.4 L1372.0,379.8 L1373.4,376.9 L1374.7,373.7 L1376.4,370.5 L1378.2,367.6 L1380.0,364.9 L1383.3,361.5 L1386.6,361.5 L1389.2,361.7 L1391.9,363.2 L1393.6,366.8 L1395.4,370.3 L1397.1,374.0 L1398.5,377.0 L1399.8,379.6 L1401.1,382.3 L1402.4,385.3 L1403.7,388.6 L1406.4,391.6 L1409.0,391.9 L1411.7,391.3 L1414.3,388.0 L1415.6,384.9 L1416.9,381.8 L1418.3,378.5 L1419.6,375.1 L1420.9,372.4 L1422.2,369.2 L1423.5,366.5 L1424.9,363.4 L1428.2,359.7 L1431.5,359.5 L1434.1,359.8 L1436.7,362.2 L1439.0,365.0 L1441.2,368.0 L1443.4,370.9 L1445.3,373.9 L1447.3,375.9 L1449.3,378.2 L1451.3,381.3 L1455.2,382.6 L1459.2,383.3 L1462.5,382.9 L1465.8,381.8 L1467.6,378.2 L1469.3,374.6 L1471.1,371.5 L1472.8,367.6 L1474.6,363.8 L1476.4,360.9 L1478.3,358.7 L1480.3,358.2 L1483.0,359.3 L1485.6,362.3 L1486.4,365.2 L1487.2,368.6 L1488.0,372.1 L1488.8,375.5 L1489.6,379.2 L1490.0,380.5 L1490.7,383.2 L1491.3,386.0 L1492.0,389.5 L1492.6,392.3 L1494.6,394.9 L1496.6,395.3 L1499.2,393.7 L1501.9,388.3 L1502.7,385.2 L1503.5,381.6 L1504.3,378.1 L1505.1,374.2 L1505.8,371.4 L1506.8,368.1 L1507.8,364.2 L1508.8,360.9 L1509.8,358.0 L1511.8,355.9 L1513.8,355.0 L1515.7,356.7 L1517.7,358.9 L1518.5,362.5 L1519.3,365.6 L1520.1,368.6 L1520.9,372.0 L1521.7,375.0 L1523.0,378.6 L1524.3,381.9 L1525.7,384.6 L1527.0,388.1 L1529.3,390.7 L1531.6,390.8 L1533.6,389.0 L1535.6,383.9 L1536.5,381.1 L1537.4,378.5 L1538.3,375.4 L1539.3,372.5 L1540.2,369.7 L1541.5,366.8 L1542.8,363.8 L1544.1,360.6 L1546.5,359.2 L1548.8,359.2 L1551.0,361.1 L1553.4,364.8 L1554.7,368.1 L1556.0,371.5 L1557.3,374.6 L1558.7,377.5 L1561.3,381.8 L1563.9,382.8 L1567.2,382.2 L1570.5,380.3 L1572.3,376.9 L1574.1,374.1 L1575.8,370.9 L1578.5,367.6 L1581.1,364.5 L1583.5,364.2 L1585.7,364.6 L1588.0,367.0 L1590.4,372.6 L1592.1,375.0 L1593.9,377.6 L1595.6,380.3 L1598.3,381.0 L1600.9,380.1 L1602.2,377.6 L1603.6,374.3 L1604.9,371.2 L1607.3,367.9 L1609.5,366.5 L1611.7,367.0 L1614.1,368.1 L1616.3,370.8 L1618.5,373.8 L1620.7,376.4 L1624.0,377.7 L1627.3,378.1 L1630.6,376.5 L1633.9,374.1 L1637.9,372.0 L1641.9,369.4 L1645.2,371.0 L1648.5,372.3 L1651.8,374.1 L1655.1,376.2 L1658.1,375.9 L1661.2,375.0 L1664.3,373.6 L1668.3,372.3 L1672.2,370.2 L1676.2,370.2 L1680.1,369.5 L1684.1,371.9 L1688.1,373.8 L1691.4,375.5 L1694.7,376.5 L1698.0,375.4 L1701.3,373.5 L1704.6,371.9 L1707.9,369.6 L1711.2,368.1 L1714.5,367.5 L1719.1,366.8"/>
<path d="M872.0,892.0 L875.1,891.9 L878.1,892.3 L881.2,891.9 L884.2,892.3 L887.3,892.2 L890.3,892.0 L893.4,892.4 L896.4,892.1 L899.5,892.4 L902.6,892.1 L905.7,892.1 L909.6,893.0 L911.6,898.0 L912.6,900.7 L913.6,904.1 L914.4,907.3 L915.2,910.5 L916.0,913.1 L916.7,915.9 L917.5,919.2 L922.8,920.5 L926.1,920.8 L929.4,920.0 L932.7,918.6 L936.0,917.2 L939.3,920.0 L942.6,922.4 L945.3,920.6 L947.9,918.9 L951.9,915.7 L957.2,915.5 L959.8,918.9 L962.4,921.8 L965.1,921.4 L967.7,919.9 L968.9,917.4 L970.1,914.2 L972.3,909.5 L975.0,908.4 L977.6,908.3 L978.5,911.1 L979.3,914.5 L980.1,918.7 L980.9,922.6 L981.4,926.2 L981.9,929.4 L982.4,933.0 L982.9,936.2 L983.4,939.2 L983.9,943.0 L984.4,945.6 L984.9,949.2 L985.3,952.5 L985.7,955.0 L986.1,958.3 L986.5,961.0 L986.9,964.5 L987.3,967.7 L987.7,970.5 L988.0,973.8 L988.4,976.4 L988.8,979.8 L992.8,981.3 L996.8,982.3 L999.4,986.8 L1002.0,991.8 L1004.7,995.1 L1007.3,995.4 L1010.0,991.0 L1011.3,986.2 L1012.6,982.4 L1013.3,979.1 L1013.9,976.0 L1014.6,972.6 L1015.3,968.9 L1015.9,965.6 L1016.6,962.6 L1017.6,958.1 L1018.6,954.5 L1020.5,950.3 L1022.5,949.7 L1024.5,950.9 L1026.5,956.0 L1027.5,958.8 L1028.5,962.2 L1029.6,965.6 L1030.7,969.3 L1031.8,972.0 L1032.9,975.6 L1034.0,979.0 L1035.1,982.5 L1036.7,985.8 L1038.4,989.1 L1040.0,992.0 L1041.7,995.4 L1043.0,998.5 L1044.3,1002.1 L1045.6,1005.3 L1046.9,1007.8 L1048.3,1011.0 L1049.9,1014.4 L1051.6,1017.7 L1053.2,1021.2 L1054.9,1024.6 L1058.2,1025.3 L1061.5,1026.1 L1065.0,1026.9 L1068.5,1027.3 L1072.0,1027.8 L1075.3,1023.5 L1078.6,1019.4 L1081.9,1018.9 L1085.2,1018.6 L1088.3,1019.4 L1091.4,1019.5 L1094.5,1020.9 L1097.8,1018.1 L1101.1,1015.6 L1104.4,1014.8 L1107.7,1013.8 L1111.6,1014.8 L1115.6,1015.6 L1119.6,1015.4 L1123.5,1014.2 L1126.8,1009.6 L1127.3,1008.0 L1129.2,1003.3 L1132.5,1001.9 L1135.8,1001.2 L1139.1,1003.8 L1142.4,1007.3 L1146.4,1009.2 L1149.1,1004.8 L1151.7,1000.6 L1155.0,1001.6 L1158.3,1001.7 L1161.6,1003.0 L1164.9,1004.7 L1168.4,1003.7 L1171.9,1002.6 L1175.5,1001.3 L1179.0,1002.5 L1182.5,1003.3 L1186.0,1003.5 L1189.5,1004.0 L1193.1,1004.1 L1196.6,1004.6 L1199.7,1004.5 L1202.7,1004.3 L1205.8,1004.5 L1209.1,1002.0 L1212.4,999.9 L1215.7,1000.6 L1219.0,1000.3 L1222.3,1000.0 L1225.6,1000.3 L1229.2,1000.6 L1232.7,1001.6 L1236.2,1002.6 L1239.3,1002.1 L1242.4,1001.5 L1245.4,1000.7 L1248.5,1000.2 L1251.6,999.3 L1254.7,999.2 L1258.0,997.7 L1261.3,996.5 L1264.6,997.8 L1267.9,999.4 L1271.9,999.5 L1275.8,999.3 L1279.3,998.1 L1282.9,997.0 L1286.4,995.9 L1289.5,995.4 L1292.5,994.6 L1295.6,994.3 L1298.7,994.0 L1301.8,993.5 L1304.9,993.3 L1307.5,989.9 L1310.1,986.2 L1313.4,984.6 L1316.7,982.8 L1320.7,981.4 L1324.7,980.8 L1328.0,980.5 L1331.3,980.2 L1333.9,982.3 L1336.6,984.9 L1339.2,987.8 L1341.8,990.8 L1347.1,989.5 L1349.8,987.5 L1352.4,985.4 L1355.5,985.4 L1358.6,985.1 L1361.6,985.2 L1364.7,985.1 L1367.8,984.3 L1370.9,984.6 L1375.3,988.1 L1378.6,990.6 L1381.9,993.2 L1385.8,993.3 L1389.8,993.4 L1393.8,992.6 L1397.7,990.9 L1400.4,989.7 L1403.0,988.3 L1405.7,986.3 L1409.0,987.3 L1412.3,988.7 L1415.6,991.2 L1418.9,993.4 L1421.5,995.4 L1424.1,997.4 L1426.8,995.6 L1429.4,993.3 L1432.1,990.4 L1434.7,988.7 L1438.0,989.1 L1441.3,989.2 L1444.6,990.9 L1447.9,993.1 L1451.2,993.4 L1454.5,993.9 L1458.5,992.7 L1462.4,990.5 L1465.7,989.4 L1469.0,988.7 L1472.3,990.0 L1475.6,992.0 L1478.3,994.9 L1480.9,997.4 L1484.9,997.8 L1488.8,998.1 L1492.8,996.8 L1496.8,995.7 L1500.1,993.1 L1503.4,991.0 L1506.7,991.4 L1510.0,992.7 L1513.3,994.5 L1516.6,996.9 L1520.5,997.4 L1524.5,998.0 L1527.8,995.6 L1531.1,994.0 L1535.1,991.7 L1539.0,989.7 L1542.3,992.0 L1545.6,993.9 L1548.3,997.9 L1550.9,1001.3 L1553.5,999.5 L1556.2,998.5 L1558.8,994.7 L1561.5,991.7 L1564.8,991.5 L1568.1,991.1 L1570.7,993.5 L1573.4,996.3 L1577.3,997.7 L1581.3,999.2 L1585.2,997.3 L1589.2,996.4 L1592.3,995.5 L1595.4,994.8 L1598.4,994.5 L1600.0,992.4 L1603.3,993.4 L1606.6,994.5 L1609.9,996.0 L1613.2,996.9 L1616.5,995.7 L1619.8,994.3 L1623.1,994.2 L1626.4,994.2 L1629.7,993.8 L1633.0,993.7 L1636.3,993.7 L1639.6,994.0 L1642.9,993.8 L1646.2,994.0 L1649.5,993.5 L1652.8,992.5 L1656.1,992.2 L1659.4,992.0 L1662.7,992.0 L1666.0,991.4 L1669.3,991.4 L1672.6,991.6 L1675.9,990.7 L1679.2,990.2 L1682.5,989.4 L1685.8,989.2 L1689.1,989.3 L1692.4,989.4 L1695.7,988.8 L1699.0,989.2 L1702.3,989.7 L1705.6,989.8 L1708.9,990.8 L1712.2,991.4 L1715.5,990.1 L1718.8,990.1"/>
<path d="M872.0,891.9 L875.3,892.6 L878.6,892.1 L881.9,892.7 L885.2,892.3 L888.5,892.6 L891.8,893.4 L895.1,892.9 L897.1,898.5 L898.1,902.6 L899.1,906.9 L899.9,910.1 L900.8,912.9 L901.7,916.5 L902.4,919.1 L903.2,922.4 L904.0,925.5 L904.7,928.9 L905.5,932.2 L906.2,935.8 L907.0,938.6 L907.5,941.3 L908.0,944.4 L908.5,948.0 L909.0,950.2 L909.4,953.6 L909.9,956.4 L910.4,959.6 L910.9,962.3 L911.6,965.9 L912.3,969.0 L912.9,972.5 L913.6,976.0 L914.2,979.0 L914.9,982.0 L915.7,985.3 L916.5,989.5 L917.3,992.5 L918.1,995.7 L918.9,999.8 L919.8,1002.4 L920.8,1005.5 L922.8,1007.6 L925.5,1007.4 L928.1,1005.9 L929.1,1003.0 L930.1,999.1 L931.1,995.7 L932.1,991.2 L934.7,986.4 L937.3,983.7 L940.6,983.3 L943.9,982.5 L947.2,982.9 L950.5,983.3 L953.2,987.9 L954.5,991.2 L955.8,994.1 L957.2,997.0 L958.5,1000.8 L959.8,1003.6 L961.1,1007.0 L962.4,1009.7 L963.5,1012.9 L964.5,1015.9 L965.6,1019.4 L966.7,1022.5 L967.7,1025.8 L968.9,1029.3 L970.1,1033.2 L971.3,1036.8 L972.5,1039.7 L972.9,1043.0 L973.3,1046.0 L973.7,1049.5 L974.1,1052.8 L974.5,1055.3 L974.9,1058.9 L975.2,1061.6 L975.6,1064.5 L976.0,1068.2 L976.4,1071.0 L976.8,1074.0 L977.3,1077.3 L977.7,1080.2 L978.2,1083.5 L978.7,1086.6 L979.1,1089.7 L979.6,1093.0 L980.1,1095.8 L980.5,1098.8 L981.0,1101.9 L981.5,1105.0 L981.9,1108.5 L982.4,1111.5 L982.9,1114.9 L983.3,1117.8 L983.8,1121.1 L984.3,1124.4 L984.7,1126.8 L985.2,1129.9 L985.7,1133.1 L986.1,1136.4 L986.6,1139.6 L987.1,1142.9 L987.5,1145.7 L987.8,1149.3 L988.2,1151.6 L988.6,1155.4 L989.0,1158.0 L989.4,1161.7 L989.8,1164.1 L990.2,1168.0 L990.6,1170.9 L991.0,1174.2 L991.3,1177.0 L991.7,1179.8 L992.0,1183.5 L992.3,1186.2 L992.6,1189.0 L992.9,1192.6 L993.2,1195.6 L993.5,1198.7 L993.8,1201.6 L994.2,1204.6 L994.5,1208.1 L994.8,1211.1 L995.1,1214.0 L995.4,1217.3 L995.7,1220.7 L996.0,1223.8 L996.3,1226.7 L996.6,1229.8 L997.0,1232.8 L997.3,1235.8 L997.6,1238.9 L997.9,1242.2 L998.2,1245.1 L998.4,1248.8 L998.7,1251.9 L998.9,1255.0 L999.2,1257.7 L999.4,1261.2 L999.7,1264.4 L999.9,1267.3 L1000.3,1271.6 L1000.6,1274.9 L1000.9,1278.3 L1002.3,1274.7 L1002.8,1271.3 L1003.2,1268.3 L1003.7,1265.5 L1004.2,1262.7 L1004.7,1259.4 L1005.3,1255.7 L1005.8,1253.0 L1006.3,1250.0 L1006.9,1246.7 L1007.4,1243.6 L1007.9,1240.4 L1008.5,1236.6 L1009.1,1233.5 L1009.7,1230.5 L1010.4,1227.6 L1011.0,1223.9 L1011.7,1221.1 L1012.3,1217.9 L1013.0,1214.4 L1013.6,1211.3 L1015.0,1208.8 L1016.3,1205.9 L1017.7,1202.8 L1019.1,1200.5 L1020.4,1197.2 L1021.8,1194.6 L1023.2,1192.4 L1024.6,1189.5 L1025.9,1186.4 L1027.3,1183.6 L1028.4,1180.7 L1029.6,1177.8 L1030.7,1174.5 L1032.0,1171.7 L1033.3,1168.6 L1036.2,1166.9 L1039.3,1166.7 L1042.7,1167.4 L1045.3,1170.0 L1046.4,1174.4 L1047.5,1178.7 L1048.2,1182.3 L1048.9,1185.3 L1049.5,1188.6 L1050.6,1193.4 L1051.6,1197.3 L1053.8,1202.5 L1056.7,1204.0 L1059.8,1204.6 L1062.9,1203.3 L1065.0,1200.7 L1066.2,1197.3 L1067.5,1193.2 L1068.8,1189.2 L1070.1,1185.8 L1073.5,1181.1 L1076.9,1178.5 L1079.8,1177.6 L1082.6,1176.0 L1085.5,1174.6 L1088.5,1174.4 L1091.5,1175.0 L1094.5,1175.1 L1097.5,1175.5 L1100.9,1175.3 L1104.3,1175.9 L1107.7,1176.1 L1111.2,1176.0 L1114.6,1174.1 L1118.0,1172.0 L1121.4,1169.6 L1124.9,1167.9 L1130.0,1168.6 L1132.6,1171.5 L1135.1,1175.3 L1138.1,1176.2 L1141.1,1176.6 L1143.1,1174.6 L1145.1,1172.7 L1147.1,1170.4 L1151.4,1169.1 L1155.7,1167.2 L1159.1,1167.6 L1162.5,1167.8 L1165.9,1167.6 L1169.4,1168.8 L1172.8,1170.0 L1176.2,1172.1 L1179.6,1173.2 L1183.1,1174.2 L1186.5,1175.1 L1190.0,1177.0 L1193.5,1178.1 L1197.0,1179.2 L1200.6,1180.2 L1204.5,1180.4 L1208.5,1180.8 L1212.4,1181.3 L1215.1,1179.3 L1217.7,1177.5 L1220.4,1175.2 L1223.5,1175.2 L1226.5,1174.5 L1229.6,1173.9 L1232.9,1174.1 L1236.2,1174.4 L1239.5,1174.6 L1242.8,1175.0 L1246.1,1174.1 L1249.4,1173.9 L1252.7,1173.6 L1256.0,1173.2 L1260.0,1174.0 L1263.9,1173.8 L1267.2,1175.1 L1270.5,1176.8 L1272.7,1174.8 L1275.0,1172.6 L1277.2,1170.2 L1280.2,1168.7 L1283.3,1167.8 L1286.4,1166.4 L1289.0,1164.4 L1291.7,1162.7 L1294.3,1161.3 L1298.3,1160.3 L1302.2,1159.3 L1305.3,1159.3 L1308.4,1160.1 L1311.5,1160.9 L1315.0,1162.0 L1318.5,1163.8 L1322.0,1164.5 L1325.6,1166.7 L1329.1,1168.0 L1332.6,1169.6 L1335.7,1169.9 L1338.8,1170.7 L1341.9,1170.9 L1344.9,1170.5 L1348.0,1169.9 L1351.1,1169.0 L1354.4,1171.2 L1357.7,1172.8 L1361.7,1174.4 L1365.6,1176.4 L1368.7,1175.9 L1371.8,1175.5 L1374.9,1175.6 L1378.8,1174.1 L1382.8,1172.5 L1386.7,1171.1 L1390.7,1168.9 L1394.7,1169.6 L1398.6,1169.5 L1402.6,1171.5 L1406.6,1172.7 L1409.2,1174.1 L1411.8,1175.9 L1414.5,1177.7 L1418.4,1177.0 L1422.4,1176.2 L1426.4,1173.8 L1430.3,1172.1 L1433.4,1170.7 L1436.5,1169.9 L1439.6,1169.2 L1440.0,1168.7 L1443.3,1171.0 L1446.6,1172.9 L1450.6,1174.2 L1454.5,1176.3 L1457.6,1174.7 L1460.7,1173.7 L1463.8,1172.9 L1467.3,1172.3 L1470.8,1172.8 L1474.3,1172.1 L1477.9,1172.5 L1481.4,1173.0 L1484.9,1172.5 L1488.4,1172.6 L1491.9,1171.1 L1495.5,1170.9 L1498.1,1172.7 L1500.7,1174.7 L1503.4,1176.0 L1506.5,1175.4 L1509.5,1174.0 L1512.6,1172.8 L1515.7,1171.9 L1518.8,1171.3 L1521.9,1170.7 L1525.4,1171.2 L1528.9,1171.6 L1532.4,1172.4 L1536.0,1172.7 L1539.5,1173.6 L1543.0,1173.8 L1546.1,1173.4 L1549.2,1173.4 L1552.2,1173.1 L1556.2,1171.0 L1560.2,1169.1 L1563.5,1171.0 L1566.8,1172.7 L1570.7,1174.7 L1574.7,1176.8 L1578.6,1175.3 L1582.6,1174.3 L1585.7,1173.7 L1588.8,1173.0 L1591.9,1172.4 L1595.2,1172.7 L1598.5,1173.0 L1601.8,1173.9 L1605.1,1174.0 L1608.4,1174.4 L1611.7,1174.1 L1615.0,1174.2 L1618.3,1174.1 L1621.6,1174.1 L1624.9,1173.7 L1628.2,1173.7 L1631.5,1173.7 L1634.8,1173.9 L1638.1,1174.5 L1641.4,1174.9 L1644.7,1175.4 L1648.0,1174.9 L1651.3,1174.5 L1654.6,1174.1 L1657.9,1173.2 L1661.0,1172.8 L1664.0,1172.9 L1667.1,1171.8 L1671.1,1174.0 L1675.0,1175.7 L1678.1,1174.6 L1681.2,1174.2 L1684.3,1173.3 L1687.4,1173.9 L1690.6,1173.5 L1693.7,1173.6 L1696.9,1173.6 L1700.0,1174.3 L1703.1,1173.5 L1706.2,1173.1 L1709.4,1173.8 L1712.5,1173.8 L1715.6,1174.0 L1718.8,1174.0"/>
</g>
<g fill="none" stroke="#000000" stroke-width="6.0" stroke-linejoin="round">
<path d="M166.6,892.2 L169.6,892.3 L172.7,892.0 L175.7,891.8 L178.7,891.6 L181.8,892.1 L184.8,892.0 L187.8,892.2 L190.9,891.9 L193.9,892.2 L196.9,891.8 L199.9,892.3 L203.0,892.2 L206.0,892.0 L209.0,892.1 L212.1,892.2 L215.1,891.8 L218.1,892.1 L221.2,892.3 L224.2,891.9 L227.2,892.3 L230.3,892.2 L233.3,892.3 L236.3,891.9 L239.4,891.7 L242.4,892.3 L245.4,892.3 L248.5,892.0 L251.5,891.7 L254.5,891.8 L257.6,892.2 L260.6,891.9 L263.6,892.4 L266.6,892.1 L269.7,891.8 L272.7,892.2 L275.7,892.0 L278.8,892.4 L281.8,892.4 L284.8,892.1 L287.9,892.2 L290.9,892.3 L293.9,892.3 L297.0,892.5 L300.0,891.7 L303.0,892.0 L306.0,892.2 L309.0,891.9 L312.0,892.2 L315.0,891.8 L318.0,892.4 L321.0,892.1 L324.0,891.8 L327.0,892.2 L330.0,891.9 L333.0,891.8 L336.0,892.1 L339.0,891.8 L342.0,891.8 L345.0,892.4 L348.0,892.2 L351.0,891.7 L354.0,892.3 L357.0,891.7 L360.0,891.9 L363.0,892.4 L366.0,892.2 L369.0,891.9 L372.0,892.0 L375.0,892.0 L378.0,891.7 L381.0,892.4 L384.0,891.7 L387.0,892.0 L390.0,892.2 L393.0,892.0 L396.0,892.4 L399.0,891.8 L402.0,892.4 L405.0,892.3 L408.0,892.2 L411.0,892.3 L414.0,892.0 L417.0,892.3 L420.0,892.3 L423.0,892.0 L426.0,892.0 L429.0,892.2 L432.0,891.9 L435.0,891.7 L438.0,892.2 L441.0,891.8 L444.0,892.0 L447.0,892.2 L450.0,891.7 L453.1,891.6 L456.1,891.7 L459.2,892.1 L462.2,891.9 L465.3,891.8 L468.3,892.0 L471.4,892.3 L474.4,891.8 L477.5,891.9 L480.6,892.3 L483.6,892.1 L486.7,891.8 L489.7,892.0 L492.8,892.0 L495.8,891.7 L498.9,891.9 L501.9,891.8 L505.0,892.2 L508.1,891.9 L511.1,892.1 L514.2,892.4 L517.2,892.3 L520.3,891.9 L523.3,892.1 L526.4,891.9 L529.4,891.9 L532.5,892.0 L535.6,892.2 L538.6,892.3 L541.7,891.8 L544.7,891.6 L547.8,892.0 L550.8,891.6 L553.9,891.6 L556.9,892.2 L560.0,891.7 L563.1,892.0 L566.2,891.5 L569.4,891.8 L572.5,891.5 L575.6,890.7 L578.8,890.6 L581.9,891.0 L585.0,890.6 L588.0,890.4 L591.0,890.7 L594.0,890.7 L597.0,890.5 L600.0,890.4 L603.0,890.1 L606.0,890.3 L609.0,890.1 L612.0,890.5 L615.0,890.5 L618.0,890.1 L621.0,890.5 L624.0,890.1 L627.0,890.1 L630.0,890.5 L633.0,890.3 L636.0,890.7 L639.0,890.4 L642.0,890.5 L645.0,890.0 L648.0,890.6 L651.0,890.0 L654.0,890.4 L657.0,890.6 L660.0,890.6 L663.0,890.6 L666.0,890.2 L669.0,890.4 L672.0,890.5 L675.0,890.0 L678.0,890.6 L681.0,890.6 L684.0,890.2 L687.0,890.4 L690.0,890.2 L693.0,890.4 L696.0,891.1 L699.0,891.0 L702.0,892.0 L705.0,892.5 L708.1,891.9 L711.1,892.5 L714.2,891.8 L717.3,892.4 L720.3,891.9 L723.4,892.5 L726.5,892.1 L729.5,892.5 L732.6,891.8 L735.6,891.8 L738.7,892.4 L741.8,892.2 L744.8,892.2 L747.9,891.8 L751.0,891.9 L754.0,892.0 L757.1,891.8 L760.2,892.6 L763.2,892.4 L766.3,892.5 L769.4,892.3 L772.4,892.0 L775.5,891.8 L778.5,892.4 L781.6,891.9 L784.7,892.2 L787.7,892.2 L790.8,892.2 L793.9,891.9 L796.9,891.9 L800.0,892.2 L803.1,891.8 L806.2,892.2 L809.2,891.9 L812.3,892.0 L815.4,891.9 L818.5,892.2 L821.5,892.1 L824.6,891.9 L827.7,891.9 L830.8,892.2 L833.8,892.5 L836.9,892.1 L840.0,891.9 L843.1,892.0 L846.2,891.9 L849.2,892.2 L852.3,892.4 L855.4,892.2 L858.5,891.9 L861.5,892.0 L864.6,892.0 L867.7,892.1 L870.8,892.0 L873.8,892.5 L876.9,892.1 L880.0,892.2 L884.2,891.5 L888.5,890.6 L891.6,888.7 L894.8,886.3 L897.1,883.8 L899.5,881.4 L901.9,878.0 L904.3,875.7 L905.8,872.7 L907.4,869.6 L908.5,866.4 L909.5,863.8 L910.6,860.1 L911.4,857.5 L912.2,853.8 L913.0,850.9 L913.7,847.4 L914.3,844.7 L914.8,841.7 L915.3,838.1 L915.8,835.2 L916.4,832.3 L916.9,828.7 L917.4,825.6 L918.0,822.7 L918.5,819.6 L918.9,815.9 L919.3,813.2 L919.8,809.6 L920.2,806.4 L920.6,803.9 L921.1,800.0 L921.5,797.6 L921.9,794.3 L922.4,791.0 L922.8,787.9 L923.2,784.7 L923.6,781.2 L924.0,778.2 L924.5,774.9 L924.9,772.2 L925.3,769.0 L925.7,765.8 L926.1,762.2 L926.5,759.4 L926.9,755.9 L927.3,753.2 L928.4,749.7 L929.5,746.4 L932.1,743.6 L935.6,743.3 L939.0,743.1 L943.0,742.0 L946.9,742.0 L951.0,739.3 L953.3,735.5 L954.4,731.3 L955.5,728.0 L956.1,724.1 L956.7,721.7 L957.4,718.5 L958.0,715.0 L958.6,712.1 L959.1,708.3 L959.7,705.3 L960.3,702.0 L960.9,698.9 L961.4,695.7 L962.0,693.2 L962.6,689.4 L963.2,686.6 L963.7,683.2 L964.3,680.0 L964.8,677.0 L965.2,673.7 L965.7,671.2 L966.1,667.5 L966.6,664.5 L967.0,661.3 L967.5,658.2 L967.9,654.9 L968.4,651.6 L968.8,648.4 L969.3,645.8 L969.7,642.1 L970.2,639.1 L970.6,636.2 L971.0,632.9 L971.3,630.0 L971.7,626.8 L972.0,623.4 L972.3,619.9 L972.7,617.1 L973.0,613.8 L973.4,611.0 L973.7,607.6 L974.0,604.5 L974.4,601.5 L974.7,598.0 L975.0,595.2 L975.4,592.1 L975.6,588.3 L975.9,585.8 L976.1,582.6 L976.4,579.4 L976.6,575.8 L976.8,572.6 L977.1,569.3 L977.3,566.3 L977.6,563.6 L977.8,560.0 L978.1,556.6 L978.3,553.6 L978.5,550.3 L978.8,547.6 L979.0,544.5 L979.2,541.5 L979.4,537.7 L979.6,534.7 L979.8,531.4 L980.0,528.8 L980.2,525.6 L980.4,522.2 L980.7,519.4 L980.9,515.9 L981.1,512.9 L981.3,509.5 L981.5,506.3 L981.7,503.6 L981.8,500.5 L981.9,497.3 L982.1,494.5 L982.2,491.3 L982.3,488.4 L982.4,484.8 L982.6,481.9 L982.7,478.8 L982.8,476.2 L982.9,473.3 L983.0,469.8 L983.2,467.1 L983.3,463.8 L983.4,461.2 L983.5,458.3 L983.6,454.7 L983.8,452.4 L983.9,449.2 L984.0,445.7 L984.1,442.9 L984.2,439.7 L984.5,436.9 L984.7,433.7 L984.9,429.8 L985.1,426.4 L985.3,423.5 L985.5,420.3 L985.7,417.2 L986.0,413.9 L986.2,410.6 L986.4,407.9 L986.6,404.8 L986.8,402.0 L987.0,398.8 L987.2,395.8 L987.4,393.0 L987.6,389.7 L987.8,386.8 L988.0,383.3 L988.2,379.9 L988.4,377.4 L988.7,373.6 L988.9,371.2 L989.1,367.6 L989.3,364.2 L989.6,361.2 L989.8,358.4 L990.0,354.9 L990.4,351.7 L990.7,347.9 L991.0,345.1 L991.4,341.4 L991.7,338.4 L992.0,334.4 L992.8,331.3 L993.6,327.6 L994.3,324.0 L995.1,320.1 L995.9,317.5 L996.6,314.7 L997.4,311.0 L998.1,308.3 L998.8,304.9 L999.4,302.6 L1000.0,299.5 L1000.7,296.3 L1001.3,293.0 L1002.0,289.7 L1002.6,286.7 L1003.2,284.1 L1003.7,280.9 L1004.3,277.8 L1004.8,274.5 L1005.3,270.9 L1005.9,267.5 L1006.6,264.1 L1007.3,260.4 L1009.3,259.2 L1011.3,259.9 L1014.0,264.6 L1016.4,268.1 L1018.5,267.8 L1020.5,266.3 L1022.5,261.4 L1024.6,257.6 L1026.6,257.2 L1028.6,258.1 L1029.3,261.9 L1030.0,264.6 L1030.6,267.7 L1031.2,271.0 L1031.7,274.4 L1032.2,277.9 L1032.7,281.7 L1033.2,284.8 L1033.7,287.7 L1034.2,290.7 L1034.7,294.3 L1035.2,297.3 L1035.7,300.5 L1036.2,303.0 L1036.7,306.4 L1038.0,309.6 L1039.2,312.4 L1040.4,316.3 L1041.6,319.2 L1042.8,322.3 L1044.1,325.5 L1045.3,329.4 L1046.5,332.0 L1047.7,335.4 L1048.9,338.8 L1051.0,342.0 L1053.0,345.7 L1055.0,348.6 L1057.6,351.4 L1060.1,354.1 L1064.8,353.5 L1069.2,354.1 L1073.3,357.9 L1075.3,360.7 L1077.4,363.5 L1080.4,366.2 L1083.5,369.4 L1087.5,370.5 L1091.6,371.1 L1095.7,369.6 L1099.7,368.6 L1102.8,367.7 L1105.8,367.5 L1108.9,367.1 L1110.9,365.1 L1112.9,362.2 L1116.0,359.4 L1119.0,358.8 L1121.0,360.9 L1121.9,364.3 L1122.8,367.1 L1123.7,370.4 L1124.9,373.8 L1126.1,377.0 L1129.2,377.6 L1132.2,378.3 L1136.3,376.9 L1140.3,375.1 L1143.4,377.2 L1146.4,379.0 L1149.0,377.2 L1151.5,375.2 L1153.0,372.2 L1154.6,369.3 L1157.6,370.0 L1160.7,370.4 L1164.7,371.0 L1168.8,371.1 L1172.2,369.6 L1175.6,368.1 L1178.9,366.5 L1182.3,366.3 L1185.7,366.5 L1189.1,366.9 L1192.7,366.7 L1196.2,366.5 L1199.8,365.4 L1203.3,365.4 L1206.7,364.6 L1210.1,364.1 L1213.5,363.5 L1216.0,364.9 L1218.6,367.4 L1221.1,369.0 L1223.6,371.0 L1227.7,372.2 L1231.8,373.3 L1234.8,372.5 L1237.9,372.1 L1240.9,371.5 L1244.0,371.0 L1247.0,371.8 L1250.1,372.5 L1253.2,373.5 L1256.8,373.8 L1260.5,374.0 L1264.1,374.4 L1267.7,374.5 L1271.7,376.4 L1275.7,380.2 L1277.9,383.5 L1280.1,386.3 L1282.3,389.3 L1284.5,391.9 L1286.7,395.0 L1288.9,397.2 L1292.2,398.6 L1295.5,400.0 L1299.4,400.5 L1303.4,400.9 L1305.4,398.6 L1307.3,396.3 L1309.1,392.9 L1310.9,390.4 L1312.6,387.1 L1315.9,384.6 L1319.2,382.3 L1321.9,380.7 L1324.5,378.7 L1326.7,376.1 L1328.9,373.2 L1331.1,369.7 L1334.4,367.8 L1337.7,367.0 L1341.0,367.9 L1344.3,369.0 L1346.5,371.4 L1348.7,374.1 L1350.9,376.3 L1352.6,379.4 L1354.2,381.6 L1355.9,384.4 L1357.5,386.8 L1360.8,389.4 L1364.1,389.6 L1366.8,388.0 L1369.4,385.9 L1370.7,382.4 L1372.0,379.8 L1373.4,376.9 L1374.7,373.7 L1376.4,370.5 L1378.2,367.6 L1380.0,364.9 L1383.3,361.5 L1386.6,361.5 L1389.2,361.7 L1391.9,363.2 L1393.6,366.8 L1395.4,370.3 L1397.1,374.0 L1398.5,377.0 L1399.8,379.6 L1401.1,382.3 L1402.4,385.3 L1403.7,388.6 L1406.4,391.6 L1409.0,391.9 L1411.7,391.3 L1414.3,388.0 L1415.6,384.9 L1416.9,381.8 L1418.3,378.5 L1419.6,375.1 L1420.9,372.4 L1422.2,369.2 L1423.5,366.5 L1424.9,363.4 L1428.2,359.7 L1431.5,359.5 L1434.1,359.8 L1436.7,362.2 L1439.0,365.0 L1441.2,368.0 L1443.4,370.9 L1445.3,373.9 L1447.3,375.9 L1449.3,378.2 L1451.3,381.3 L1455.2,382.6 L1459.2,383.3 L1462.5,382.9 L1465.8,381.8 L1467.6,378.2 L1469.3,374.6 L1471.1,371.5 L1472.8,367.6 L1474.6,363.8 L1476.4,360.9 L1478.3,358.7 L1480.3,358.2 L1483.0,359.3 L1485.6,362.3 L1486.4,365.2 L1487.2,368.6 L1488.0,372.1 L1488.8,375.5 L1489.6,379.2 L1490.0,380.5 L1490.7,383.2 L1491.3,386.0 L1492.0,389.5 L1492.6,392.3 L1494.6,394.9 L1496.6,395.3 L1499.2,393.7 L1501.9,388.3 L1502.7,385.2 L1503.5,381.6 L1504.3,378.1 L1505.1,374.2 L1505.8,371.4 L1506.8,368.1 L1507.8,364.2 L1508.8,360.9 L1509.8,358.0 L1511.8,355.9 L1513.8,355.0 L1515.7,356.7 L1517.7,358.9 L1518.5,362.5 L1519.3,365.6 L1520.1,368.6 L1520.9,372.0 L1521.7,375.0 L1523.0,378.6 L1524.3,381.9 L1525.7,384.6 L1527.0,388.1 L1529.3,390.7 L1531.6,390.8 L1533.6,389.0 L1535.6,383.9 L1536.5,381.1 L1537.4,378.5 L1538.3,375.4 L1539.3,372.5 L1540.2,369.7 L1541.5,366.8 L1542.8,363.8 L1544.1,360.6 L1546.5,359.2 L1548.8,359.2 L1551.0,361.1 L1553.4,364.8 L1554.7,368.1 L1556.0,371.5 L1557.3,374.6 L1558.7,377.5 L1561.3,381.8 L1563.9,382.8 L1567.2,382.2 L1570.5,380.3 L1572.3,376.9 L1574.1,374.1 L1575.8,370.9 L1578.5,367.6 L1581.1,364.5 L1583.5,364.2 L1585.7,364.6 L1588.0,367.0 L1590.4,372.6 L1592.1,375.0 L1593.9,377.6 L1595.6,380.3 L1598.3,381.0 L1600.9,380.1 L1602.2,377.6 L1603.6,374.3 L1604.9,371.2 L1607.3,367.9 L1609.5,366.5 L1611.7,367.0 L1614.1,368.1 L1616.3,370.8 L1618.5,373.8 L1620.7,376.4 L1624.0,377.7 L1627.3,378.1 L1630.6,376.5 L1633.9,374.1 L1637.9,372.0 L1641.9,369.4 L1645.2,371.0 L1648.5,372.3 L1651.8,374.1 L1655.1,376.2 L1658.1,375.9 L1661.2,375.0 L1664.3,373.6 L1668.3,372.3 L1672.2,370.2 L1676.2,370.2 L1680.1,369.5 L1684.1,371.9 L1688.1,373.8 L1691.4,375.5 L1694.7,376.5 L1698.0,375.4 L1701.3,373.5 L1704.6,371.9 L1707.9,369.6 L1711.2,368.1 L1714.5,367.5 L1719.1,366.8"/>
<path d="M872.0,892.0 L875.1,891.9 L878.1,892.3 L881.2,891.9 L884.2,892.3 L887.3,892.2 L890.3,892.0 L893.4,892.4 L896.4,892.1 L899.5,892.4 L902.6,892.1 L905.7,892.1 L909.6,893.0 L911.6,898.0 L912.6,900.7 L913.6,904.1 L914.4,907.3 L915.2,910.5 L916.0,913.1 L916.7,915.9 L917.5,919.2 L922.8,920.5 L926.1,920.8 L929.4,920.0 L932.7,918.6 L936.0,917.2 L939.3,920.0 L942.6,922.4 L945.3,920.6 L947.9,918.9 L951.9,915.7 L957.2,915.5 L959.8,918.9 L962.4,921.8 L965.1,921.4 L967.7,919.9 L968.9,917.4 L970.1,914.2 L972.3,909.5 L975.0,908.4 L977.6,908.3 L978.5,911.1 L979.3,914.5 L980.1,918.7 L980.9,922.6 L981.4,926.2 L981.9,929.4 L982.4,933.0 L982.9,936.2 L983.4,939.2 L983.9,943.0 L984.4,945.6 L984.9,949.2 L985.3,952.5 L985.7,955.0 L986.1,958.3 L986.5,961.0 L986.9,964.5 L987.3,967.7 L987.7,970.5 L988.0,973.8 L988.4,976.4 L988.8,979.8 L992.8,981.3 L996.8,982.3 L999.4,986.8 L1002.0,991.8 L1004.7,995.1 L1007.3,995.4 L1010.0,991.0 L1011.3,986.2 L1012.6,982.4 L1013.3,979.1 L1013.9,976.0 L1014.6,972.6 L1015.3,968.9 L1015.9,965.6 L1016.6,962.6 L1017.6,958.1 L1018.6,954.5 L1020.5,950.3 L1022.5,949.7 L1024.5,950.9 L1026.5,956.0 L1027.5,958.8 L1028.5,962.2 L1029.6,965.6 L1030.7,969.3 L1031.8,972.0 L1032.9,975.6 L1034.0,979.0 L1035.1,982.5 L1036.7,985.8 L1038.4,989.1 L1040.0,992.0 L1041.7,995.4 L1043.0,998.5 L1044.3,1002.1 L1045.6,1005.3 L1046.9,1007.8 L1048.3,1011.0 L1049.9,1014.4 L1051.6,1017.7 L1053.2,1021.2 L1054.9,1024.6 L1058.2,1025.3 L1061.5,1026.1 L1065.0,1026.9 L1068.5,1027.3 L1072.0,1027.8 L1075.3,1023.5 L1078.6,1019.4 L1081.9,1018.9 L1085.2,1018.6 L1088.3,1019.4 L1091.4,1019.5 L1094.5,1020.9 L1097.8,1018.1 L1101.1,1015.6 L1104.4,1014.8 L1107.7,1013.8 L1111.6,1014.8 L1115.6,1015.6 L1119.6,1015.4 L1123.5,1014.2 L1126.8,1009.6 L1127.3,1008.0 L1129.2,1003.3 L1132.5,1001.9 L1135.8,1001.2 L1139.1,1003.8 L1142.4,1007.3 L1146.4,1009.2 L1149.1,1004.8 L1151.7,1000.6 L1155.0,1001.6 L1158.3,1001.7 L1161.6,1003.0 L1164.9,1004.7 L1168.4,1003.7 L1171.9,1002.6 L1175.5,1001.3 L1179.0,1002.5 L1182.5,1003.3 L1186.0,1003.5 L1189.5,1004.0 L1193.1,1004.1 L1196.6,1004.6 L1199.7,1004.5 L1202.7,1004.3 L1205.8,1004.5 L1209.1,1002.0 L1212.4,999.9 L1215.7,1000.6 L1219.0,1000.3 L1222.3,1000.0 L1225.6,1000.3 L1229.2,1000.6 L1232.7,1001.6 L1236.2,1002.6 L1239.3,1002.1 L1242.4,1001.5 L1245.4,1000.7 L1248.5,1000.2 L1251.6,999.3 L1254.7,999.2 L1258.0,997.7 L1261.3,996.5 L1264.6,997.8 L1267.9,999.4 L1271.9,999.5 L1275.8,999.3 L1279.3,998.1 L1282.9,997.0 L1286.4,995.9 L1289.5,995.4 L1292.5,994.6 L1295.6,994.3 L1298.7,994.0 L1301.8,993.5 L1304.9,993.3 L1307.5,989.9 L1310.1,986.2 L1313.4,984.6 L1316.7,982.8 L1320.7,981.4 L1324.7,980.8 L1328.0,980.5 L1331.3,980.2 L1333.9,982.3 L1336.6,984.9 L1339.2,987.8 L1341.8,990.8 L1347.1,989.5 L1349.8,987.5 L1352.4,985.4 L1355.5,985.4 L1358.6,985.1 L1361.6,985.2 L1364.7,985.1 L1367.8,984.3 L1370.9,984.6 L1375.3,988.1 L1378.6,990.6 L1381.9,993.2 L1385.8,993.3 L1389.8,993.4 L1393.8,992.6 L1397.7,990.9 L1400.4,989.7 L1403.0,988.3 L1405.7,986.3 L1409.0,987.3 L1412.3,988.7 L1415.6,991.2 L1418.9,993.4 L1421.5,995.4 L1424.1,997.4 L1426.8,995.6 L1429.4,993.3 L1432.1,990.4 L1434.7,988.7 L1438.0,989.1 L1441.3,989.2 L1444.6,990.9 L1447.9,993.1 L1451.2,993.4 L1454.5,993.9 L1458.5,992.7 L1462.4,990.5 L1465.7,989.4 L1469.0,988.7 L1472.3,990.0 L1475.6,992.0 L1478.3,994.9 L1480.9,997.4 L1484.9,997.8 L1488.8,998.1 L1492.8,996.8 L1496.8,995.7 L1500.1,993.1 L1503.4,991.0 L1506.7,991.4 L1510.0,992.7 L1513.3,994.5 L1516.6,996.9 L1520.5,997.4 L1524.5,998.0 L1527.8,995.6 L1531.1,994.0 L1535.1,991.7 L1539.0,989.7 L1542.3,992.0 L1545.6,993.9 L1548.3,997.9 L1550.9,1001.3 L1553.5,999.5 L1556.2,998.5 L1558.8,994.7 L1561.5,991.7 L1564.8,991.5 L1568.1,991.1 L1570.7,993.5 L1573.4,996.3 L1577.3,997.7 L1581.3,999.2 L1585.2,997.3 L1589.2,996.4 L1592.3,995.5 L1595.4,994.8 L1598.4,994.5 L1600.0,992.4 L1603.3,993.4 L1606.6,994.5 L1609.9,996.0 L1613.2,996.9 L1616.5,995.7 L1619.8,994.3 L1623.1,994.2 L1626.4,994.2 L1629.7,993.8 L1633.0,993.7 L1636.3,993.7 L1639.6,994.0 L1642.9,993.8 L1646.2,994.0 L1649.5,993.5 L1652.8,992.5 L1656.1,992.2 L1659.4,992.0 L1662.7,992.0 L1666.0,991.4 L1669.3,991.4 L1672.6,991.6 L1675.9,990.7 L1679.2,990.2 L1682.5,989.4 L1685.8,989.2 L1689.1,989.3 L1692.4,989.4 L1695.7,988.8 L1699.0,989.2 L1702.3,989.7 L1705.6,989.8 L1708.9,990.8 L1712.2,991.4 L1715.5,990.1 L1718.8,990.1"/>
<path d="M872.0,891.9 L875.3,892.6 L878.6,892.1 L881.9,892.7 L885.2,892.3 L888.5,892.6 L891.8,893.4 L895.1,892.9 L897.1,898.5 L898.1,902.6 L899.1,906.9 L899.9,910.1 L900.8,912.9 L901.7,916.5 L902.4,919.1 L903.2,922.4 L904.0,925.5 L904.7,928.9 L905.5,932.2 L906.2,935.8 L907.0,938.6 L907.5,941.3 L908.0,944.4 L908.5,948.0 L909.0,950.2 L909.4,953.6 L909.9,956.4 L910.4,959.6 L910.9,962.3 L911.6,965.9 L912.3,969.0 L912.9,972.5 L913.6,976.0 L914.2,979.0 L914.9,982.0 L915.7,985.3 L916.5,989.5 L917.3,992.5 L918.1,995.7 L918.9,999.8 L919.8,1002.4 L920.8,1005.5 L922.8,1007.6 L925.5,1007.4 L928.1,1005.9 L929.1,1003.0 L930.1,999.1 L931.1,995.7 L932.1,991.2 L934.7,986.4 L937.3,983.7 L940.6,983.3 L943.9,982.5 L947.2,982.9 L950.5,983.3 L953.2,987.9 L954.5,991.2 L955.8,994.1 L957.2,997.0 L958.5,1000.8 L959.8,1003.6 L961.1,1007.0 L962.4,1009.7 L963.5,1012.9 L964.5,1015.9 L965.6,1019.4 L966.7,1022.5 L967.7,1025.8 L968.9,1029.3 L970.1,1033.2 L971.3,1036.8 L972.5,1039.7 L972.9,1043.0 L973.3,1046.0 L973.7,1049.5 L974.1,1052.8 L974.5,1055.3 L974.9,1058.9 L975.2,1061.6 L975.6,1064.5 L976.0,1068.2 L976.4,1071.0 L976.8,1074.0 L977.3,1077.3 L977.7,1080.2 L978.2,1083.5 L978.7,1086.6 L979.1,1089.7 L979.6,1093.0 L980.1,1095.8 L980.5,1098.8 L981.0,1101.9 L981.5,1105.0 L981.9,1108.5 L982.4,1111.5 L982.9,1114.9 L983.3,1117.8 L983.8,1121.1 L984.3,1124.4 L984.7,1126.8 L985.2,1129.9 L985.7,1133.1 L986.1,1136.4 L986.6,1139.6 L987.1,1142.9 L987.5,1145.7 L987.8,1149.3 L988.2,1151.6 L988.6,1155.4 L989.0,1158.0 L989.4,1161.7 L989.8,1164.1 L990.2,1168.0 L990.6,1170.9 L991.0,1174.2 L991.3,1177.0 L991.7,1179.8 L992.0,1183.5 L992.3,1186.2 L992.6,1189.0 L992.9,1192.6 L993.2,1195.6 L993.5,1198.7 L993.8,1201.6 L994.2,1204.6 L994.5,1208.1 L994.8,1211.1 L995.1,1214.0 L995.4,1217.3 L995.7,1220.7 L996.0,1223.8 L996.3,1226.7 L996.6,1229.8 L997.0,1232.8 L997.3,1235.8 L997.6,1238.9 L997.9,1242.2 L998.2,1245.1 L998.4,1248.8 L998.7,1251.9 L998.9,1255.0 L999.2,1257.7 L999.4,1261.2 L999.7,1264.4 L999.9,1267.3 L1000.3,1271.6 L1000.6,1274.9 L1000.9,1278.3 L1002.3,1274.7 L1002.8,1271.3 L1003.2,1268.3 L1003.7,1265.5 L1004.2,1262.7 L1004.7,1259.4 L1005.3,1255.7 L1005.8,1253.0 L1006.3,1250.0 L1006.9,1246.7 L1007.4,1243.6 L1007.9,1240.4 L1008.5,1236.6 L1009.1,1233.5 L1009.7,1230.5 L1010.4,1227.6 L1011.0,1223.9 L1011.7,1221.1 L1012.3,1217.9 L1013.0,1214.4 L1013.6,1211.3 L1015.0,1208.8 L1016.3,1205.9 L1017.7,1202.8 L1019.1,1200.5 L1020.4,1197.2 L1021.8,1194.6 L1023.2,1192.4 L1024.6,1189.5 L1025.9,1186.4 L1027.3,1183.6 L1028.4,1180.7 L1029.6,1177.8 L1030.7,1174.5 L1032.0,1171.7 L1033.3,1168.6 L1036.2,1166.9 L1039.3,1166.7 L1042.7,1167.4 L1045.3,1170.0 L1046.4,1174.4 L1047.5,1178.7 L1048.2,1182.3 L1048.9,1185.3 L1049.5,1188.6 L1050.6,1193.4 L1051.6,1197.3 L1053.8,1202.5 L1056.7,1204.0 L1059.8,1204.6 L1062.9,1203.3 L1065.0,1200.7 L1066.2,1197.3 L1067.5,1193.2 L1068.8,1189.2 L1070.1,1185.8 L1073.5,1181.1 L1076.9,1178.5 L1079.8,1177.6 L1082.6,1176.0 L1085.5,1174.6 L1088.5,1174.4 L1091.5,1175.0 L1094.5,1175.1 L1097.5,1175.5 L1100.9,1175.3 L1104.3,1175.9 L1107.7,1176.1 L1111.2,1176.0 L1114.6,1174.1 L1118.0,1172.0 L1121.4,1169.6 L1124.9,1167.9 L1130.0,1168.6 L1132.6,1171.5 L1135.1,1175.3 L1138.1,1176.2 L1141.1,1176.6 L1143.1,1174.6 L1145.1,1172.7 L1147.1,1170.4 L1151.4,1169.1 L1155.7,1167.2 L1159.1,1167.6 L1162.5,1167.8 L1165.9,1167.6 L1169.4,1168.8 L1172.8,1170.0 L1176.2,1172.1 L1179.6,1173.2 L1183.1,1174.2 L1186.5,1175.1 L1190.0,1177.0 L1193.5,1178.1 L1197.0,1179.2 L1200.6,1180.2 L1204.5,1180.4 L1208.5,1180.8 L1212.4,1181.3 L1215.1,1179.3 L1217.7,1177.5 L1220.4,1175.2 L1223.5,1175.2 L1226.5,1174.5 L1229.6,1173.9 L1232.9,1174.1 L1236.2,1174.4 L1239.5,1174.6 L1242.8,1175.0 L1246.1,1174.1 L1249.4,1173.9 L1252.7,1173.6 L1256.0,1173.2 L1260.0,1174.0 L1263.9,1173.8 L1267.2,1175.1 L1270.5,1176.8 L1272.7,1174.8 L1275.0,1172.6 L1277.2,1170.2 L1280.2,1168.7 L1283.3,1167.8 L1286.4,1166.4 L1289.0,1164.4 L1291.7,1162.7 L1294.3,1161.3 L1298.3,1160.3 L1302.2,1159.3 L1305.3,1159.3 L1308.4,1160.1 L1311.5,1160.9 L1315.0,1162.0 L1318.5,1163.8 L1322.0,1164.5 L1325.6,1166.7 L1329.1,1168.0 L1332.6,1169.6 L1335.7,1169.9 L1338.8,1170.7 L1341.9,1170.9 L1344.9,1170.5 L1348.0,1169.9 L1351.1,1169.0 L1354.4,1171.2 L1357.7,1172.8 L1361.7,1174.4 L1365.6,1176.4 L1368.7,1175.9 L1371.8,1175.5 L1374.9,1175.6 L1378.8,1174.1 L1382.8,1172.5 L1386.7,1171.1 L1390.7,1168.9 L1394.7,1169.6 L1398.6,1169.5 L1402.6,1171.5 L1406.6,1172.7 L1409.2,1174.1 L1411.8,1175.9 L1414.5,1177.7 L1418.4,1177.0 L1422.4,1176.2 L1426.4,1173.8 L1430.3,1172.1 L1433.4,1170.7 L1436.5,1169.9 L1439.6,1169.2 L1440.0,1168.7 L1443.3,1171.0 L1446.6,1172.9 L1450.6,1174.2 L1454.5,1176.3 L1457.6,1174.7 L1460.7,1173.7 L1463.8,1172.9 L1467.3,1172.3 L1470.8,1172.8 L1474.3,1172.1 L1477.9,1172.5 L1481.4,1173.0 L1484.9,1172.5 L1488.4,1172.6 L1491.9,1171.1 L1495.5,1170.9 L1498.1,1172.7 L1500.7,1174.7 L1503.4,1176.0 L1506.5,1175.4 L1509.5,1174.0 L1512.6,1172.8 L1515.7,1171.9 L1518.8,1171.3 L1521.9,1170.7 L1525.4,1171.2 L1528.9,1171.6 L1532.4,1172.4 L1536.0,1172.7 L1539.5,1173.6 L1543.0,1173.8 L1546.1,1173.4 L1549.2,1173.4 L1552.2,1173.1 L1556.2,1171.0 L1560.2,1169.1 L1563.5,1171.0 L1566.8,1172.7 L1570.7,1174.7 L1574.7,1176.8 L1578.6,1175.3 L1582.6,1174.3 L1585.7,1173.7 L1588.8,1173.0 L1591.9,1172.4 L1595.2,1172.7 L1598.5,1173.0 L1601.8,1173.9 L1605.1,1174.0 L1608.4,1174.4 L1611.7,1174.1 L1615.0,1174.2 L1618.3,1174.1 L1621.6,1174.1 L1624.9,1173.7 L1628.2,1173.7 L1631.5,1173.7 L1634.8,1173.9 L1638.1,1174.5 L1641.4,1174.9 L1644.7,1175.4 L1648.0,1174.9 L1651.3,1174.5 L1654.6,1174.1 L1657.9,1173.2 L1661.0,1172.8 L1664.0,1172.9 L1667.1,1171.8 L1671.1,1174.0 L1675.0,1175.7 L1678.1,1174.6 L1681.2,1174.2 L1684.3,1173.3 L1687.4,1173.9 L1690.6,1173.5 L1693.7,1173.6 L1696.9,1173.6 L1700.0,1174.3 L1703.1,1173.5 L1706.2,1173.1 L1709.4,1173.8 L1712.5,1173.8 L1715.6,1174.0 L1718.8,1174.0"/>
</g>
<line x1="810.5" y1="100" x2="810.5" y2="1369" stroke="#000" stroke-opacity="0.5" stroke-width="3"/>
<line x1="810.5" y1="99.4" x2="810.5" y2="1369" stroke="#000" stroke-width="3" stroke-dasharray="2.7 3.4"/>
<rect x="1155.6" y="119.6" width="714.8" height="83.4" fill="#ffffff" stroke="#606060" stroke-width="3"/>
<g><line x1="1178.5" y1="159" x2="1299" y2="159" stroke="#ff0000" stroke-opacity="0.33" stroke-width="10.5"/><line x1="1178.5" y1="159" x2="1299" y2="159" stroke="#ff0000" stroke-width="6.4"/><line x1="1531.5" y1="159" x2="1652.4" y2="159" stroke="#000" stroke-opacity="0.33" stroke-width="10.5"/><line x1="1531.5" y1="159" x2="1652.4" y2="159" stroke="#000" stroke-width="6.4"/></g>
<defs><filter id="sb" x="-5%" y="-5%" width="110%" height="110%"><feGaussianBlur stdDeviation="0.85"/></filter></defs>
<g filter="url(#sb)">
<text transform="translate(1310,179) scale(1,1.042)" text-anchor="start" class="t" >SF-PPP</text>
<text transform="translate(1664.5,179) scale(1,1.042)" text-anchor="start" class="t" letter-spacing="-0.7">TRACK</text>
<text transform="translate(164.7,1434.5) scale(1,1.042)" text-anchor="middle" class="t" >0</text>
<text transform="translate(337.0,1434.5) scale(1,1.042)" text-anchor="middle" class="t" >100</text>
<text transform="translate(510.2,1434.5) scale(1,1.042)" text-anchor="middle" class="t" >200</text>
<text transform="translate(682.6,1434.5) scale(1,1.042)" text-anchor="middle" class="t" >300</text>
<text transform="translate(855.0,1434.5) scale(1,1.042)" text-anchor="middle" class="t" >400</text>
<text transform="translate(1027.4,1434.5) scale(1,1.042)" text-anchor="middle" class="t" >500</text>
<text transform="translate(1200.4,1434.5) scale(1,1.042)" text-anchor="middle" class="t" >600</text>
<text transform="translate(1372.6,1434.5) scale(1,1.042)" text-anchor="middle" class="t" >700</text>
<text transform="translate(1545.6,1434.5) scale(1,1.042)" text-anchor="middle" class="t" >800</text>
<text transform="translate(1717.8,1434.5) scale(1,1.042)" text-anchor="middle" class="t" >900</text>
<text transform="translate(1891.2,1434.5) scale(1,1.042)" text-anchor="middle" class="t" >1000</text>
<text transform="translate(153,1391.3) scale(1,1.042)" text-anchor="end" class="t" >-3</text>
<text transform="translate(153,1232.3) scale(1,1.042)" text-anchor="end" class="t" >-2</text>
<text transform="translate(153,1073.3) scale(1,1.042)" text-anchor="end" class="t" >-1</text>
<text transform="translate(153,914.4) scale(1,1.042)" text-anchor="end" class="t" >0</text>
<text transform="translate(153,755.4) scale(1,1.042)" text-anchor="end" class="t" >1</text>
<text transform="translate(153,596.4) scale(1,1.042)" text-anchor="end" class="t" >2</text>
<text transform="translate(153,437.4) scale(1,1.042)" text-anchor="end" class="t" >3</text>
<text transform="translate(153,278.5) scale(1,1.042)" text-anchor="end" class="t" >4</text>
<text transform="translate(153,119.5) scale(1,1.042)" text-anchor="end" class="t" >5</text>
<text transform="translate(1028,56) scale(1,1.042)" text-anchor="middle" class="t" >0172</text>
<text transform="translate(1026.5,1497) scale(1,1.042)" text-anchor="middle" class="t" >Time/second</text>
<text transform="translate(74.2,735.5) rotate(-90) scale(1,1.042)" text-anchor="middle" class="t" >Deformation/m</text>
<text transform="translate(1749.5,350) scale(1,1.042)" text-anchor="start" class="t" >East</text>
<text transform="translate(1767,1020) scale(1,1.042)" text-anchor="start" class="t" letter-spacing="1">Up</text>
<text transform="translate(1736.5,1188.5) scale(1,1.042)" text-anchor="start" class="t" >North</text>
</g>
</svg>
</body></html>
